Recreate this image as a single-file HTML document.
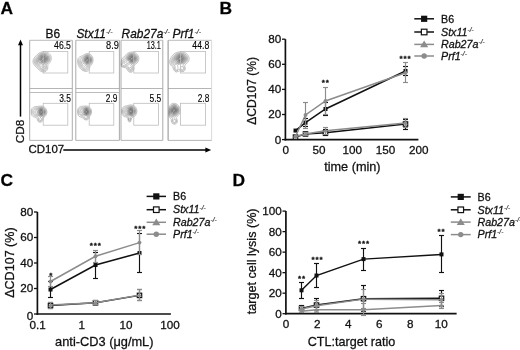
<!DOCTYPE html>
<html lang="en"><head><meta charset="utf-8"><title>Figure</title>
<style>html,body{margin:0;padding:0;background:#fff;overflow:hidden}svg{display:block;font-family:"Liberation Sans",Arial,Helvetica,sans-serif;filter:blur(0.4px)}text{stroke:#111;stroke-width:.28px}tspan{stroke-width:.15px}</style></head><body>
<svg width="520" height="350" viewBox="0 0 520 350">
<rect width="520" height="350" fill="#fff"/>
<defs><radialGradient id="core"><stop offset="0" stop-color="#444" stop-opacity="0.42"/><stop offset="0.45" stop-color="#505050" stop-opacity="0.3"/><stop offset="1" stop-color="#666" stop-opacity="0"/></radialGradient></defs>
<text x="0.6" y="13.8" font-size="17.4" font-weight="bold" fill="#000">A</text>
<text x="219.4" y="13.8" font-size="17.4" font-weight="bold" fill="#000">B</text>
<text x="0.6" y="185.7" font-size="17.4" font-weight="bold" fill="#000">C</text>
<text x="232.4" y="185.7" font-size="17.4" font-weight="bold" fill="#000">D</text>
<g id="panelA">
<text x="52.8" y="38" font-size="11.9" text-anchor="middle" fill="#111">B6</text>
<text x="76.4" y="38" font-size="11.9" font-style="italic" fill="#111">Stx11<tspan font-size="7" dy="-4.28" fill="#2a2a2a">-/-</tspan></text>
<text x="121.6" y="38" font-size="11.9" font-style="italic" fill="#111">Rab27a<tspan font-size="7" dy="-4.28" fill="#2a2a2a">-/-</tspan></text>
<text x="172.6" y="38" font-size="11.9" font-style="italic" fill="#111">Prf1<tspan font-size="7" dy="-4.28" fill="#2a2a2a">-/-</tspan></text>
<line x1="29.7" y1="40.3" x2="72.3" y2="40.3" stroke="#b4b4b4" stroke-width="0.9"/>
<line x1="29.7" y1="88.5" x2="72.3" y2="88.5" stroke="#adadad" stroke-width="0.9"/>
<line x1="29.7" y1="40.3" x2="29.7" y2="140.4" stroke="#a2a2a2" stroke-width="0.9"/>
<line x1="72.3" y1="40.3" x2="72.3" y2="140.4" stroke="#a2a2a2" stroke-width="0.9"/>
<ellipse cx="43.4" cy="58.8" rx="7.92" ry="6.96" fill="url(#core)"/>
<g fill="none" stroke="#484848" stroke-width="0.5" stroke-linejoin="round">
<path d="M42.2,51.8 44.0,51.6 45.8,51.8 47.1,52.2 48.3,52.8 49.3,53.6 50.2,54.6 50.8,55.7 51.2,57.0 51.3,58.8 51.0,60.3 50.4,61.6 49.8,62.6 48.9,63.6 48.0,64.6 47.7,66.0 47.8,67.6 47.6,69.1 47.0,70.2 46.0,71.2 44.8,71.8 43.2,72.0 41.6,71.7 40.4,71.1 39.4,70.3 38.5,69.4 37.6,68.5 36.7,67.6 35.8,66.7 34.9,65.8 34.1,64.8 33.4,63.6 33.0,62.2 33.0,60.6 33.4,59.2 34.0,58.1 34.8,57.0 35.6,56.2 36.6,55.2 37.4,54.4 38.4,53.6 39.6,52.8 40.8,52.2 42.2,51.8Z" stroke-opacity="0.62"/>
<path d="M43.2,52.8 44.7,52.8 46.0,53.1 47.2,53.6 48.1,54.2 48.9,55.0 49.5,56.0 50.0,57.2 50.1,58.6 49.8,60.0 49.4,61.0 48.7,62.0 48.0,62.8 47.2,63.6 46.4,64.5 46.4,66.0 46.7,67.2 46.6,68.7 46.0,69.8 45.2,70.5 44.0,70.9 42.8,71.0 41.5,70.6 40.5,70.0 39.7,69.2 38.9,68.4 38.2,67.6 37.3,66.8 36.5,66.0 35.8,65.2 35.0,64.2 34.5,63.2 34.1,62.0 34.2,60.5 34.6,59.3 35.2,58.4 36.0,57.4 36.8,56.6 37.6,55.8 38.4,55.0 39.2,54.4 40.2,53.7 41.4,53.2 42.6,52.9Z" stroke-opacity="0.6"/>
<path d="M42.4,53.8 43.8,53.6 45.2,53.8 46.2,54.1 47.1,54.6 47.8,55.2 48.4,56.0 48.9,57.0 49.1,58.2 49.0,59.4 48.6,60.5 48.1,61.4 47.4,62.2 46.7,62.8 46.0,63.4 45.2,64.2 45.0,65.2 45.4,66.2 45.7,67.2 45.8,68.2 45.3,69.2 44.6,69.8 43.4,70.2 42.2,70.0 41.2,69.5 40.4,68.8 39.8,68.1 39.1,67.4 38.4,66.7 37.7,66.0 37.0,65.3 36.3,64.6 35.7,63.8 35.2,62.8 35.0,61.6 35.2,60.3 35.6,59.4 36.2,58.5 36.8,57.8 37.6,57.0 38.2,56.4 39.0,55.7 39.8,55.0 40.6,54.5 41.6,54.0Z" stroke-opacity="0.6"/>
<path d="M43.6,54.4 44.6,54.5 45.8,54.8 46.6,55.3 47.4,56.0 47.9,56.8 48.2,57.8 48.2,59.1 47.9,60.2 47.4,61.0 46.7,61.8 46.0,62.4 45.1,63.0 44.3,63.6 43.7,64.4 43.9,65.6 44.4,66.4 44.8,67.4 44.6,68.6 43.8,69.2 42.6,69.2 41.7,68.8 41.0,68.2 40.3,67.4 39.6,66.7 38.9,66.0 38.2,65.4 37.4,64.6 36.8,63.9 36.2,63.0 35.9,62.0 36.0,60.6 36.4,59.7 37.0,58.8 37.6,58.1 38.3,57.4 39.0,56.7 39.8,56.0 40.6,55.4 41.4,54.9 42.4,54.6Z" stroke-opacity="0.62"/>
<path d="M42.7,55.2 43.8,55.1 44.8,55.2 45.8,55.6 46.4,56.0 47.0,56.7 47.4,57.6 47.5,58.6 47.3,59.6 47.0,60.4 46.4,61.1 45.8,61.7 45.0,62.2 44.3,62.6 43.6,63.0 42.8,63.6 42.4,64.2 42.1,65.2 42.4,66.0 43.0,66.7 43.4,67.6 42.4,67.8 41.8,67.3 41.2,66.6 40.6,66.0 40.0,65.6 39.2,65.1 38.6,64.6 37.9,64.0 37.4,63.4 36.9,62.6 36.7,61.6 36.8,60.6 37.2,59.8 37.8,59.0 38.4,58.4 38.9,57.8 39.5,57.2 40.1,56.6 40.8,56.0 41.5,55.6 42.4,55.3Z" stroke-opacity="0.66"/>
<path d="M43.0,55.8 43.6,55.7 44.3,55.8 45.0,56.0 45.4,56.2 45.9,56.6 46.3,57.0 46.6,57.6 46.8,58.2 46.7,59.0 46.6,59.6 46.3,60.2 46.0,60.6 45.6,61.0 45.1,61.4 44.6,61.7 44.0,62.0 43.6,62.2 43.0,62.4 42.4,62.7 42.0,63.0 41.4,63.4 41.0,63.7 40.4,64.0 39.9,64.0 39.2,63.8 38.8,63.5 38.4,63.2 38.0,62.7 37.7,62.2 37.6,61.4 37.8,60.6 38.0,60.2 38.4,59.6 38.7,59.2 39.0,58.8 39.4,58.3 39.8,57.8 40.2,57.4 40.6,57.0 41.0,56.7 41.4,56.4 42.0,56.1 42.6,55.9Z" stroke-opacity="0.72"/>
<path d="M43.3,56.4 43.8,56.4 44.2,56.5 44.7,56.6 45.1,56.8 45.4,57.1 45.7,57.4 45.9,57.8 46.0,58.2 46.0,58.8 46.0,59.2 45.8,59.7 45.6,60.0 45.3,60.4 45.0,60.7 44.6,61.0 44.2,61.2 43.8,61.4 43.4,61.5 43.0,61.7 42.6,61.8 42.0,62.0 41.6,62.1 41.2,62.2 40.7,62.4 40.2,62.5 39.6,62.4 39.2,62.2 39.0,62.0 38.8,61.4 38.8,61.0 38.9,60.6 39.1,60.2 39.3,59.8 39.5,59.4 39.8,59.0 40.0,58.7 40.2,58.4 40.5,58.0 40.8,57.7 41.1,57.4 41.4,57.2 41.8,56.9 42.2,56.7 42.6,56.5 43.2,56.4Z" stroke-opacity="0.8"/>
<path d="M42.6,57.2 43.0,57.1 43.4,57.0 43.8,57.1 44.2,57.1 44.4,57.2 44.7,57.4 44.9,57.6 45.1,57.8 45.2,58.0 45.3,58.4 45.3,58.8 45.2,59.2 45.2,59.4 45.0,59.7 44.8,60.0 44.6,60.2 44.4,60.3 44.2,60.5 44.0,60.6 43.6,60.8 43.4,60.8 43.0,61.0 42.8,61.0 42.4,61.1 42.0,61.1 41.6,61.1 41.2,61.1 40.8,61.0 40.6,60.9 40.4,60.6 40.3,60.4 40.3,60.0 40.4,59.7 40.5,59.4 40.6,59.2 40.8,58.8 40.9,58.6 41.1,58.4 41.2,58.2 41.4,58.0 41.6,57.8 41.9,57.6 42.2,57.4 42.4,57.3 42.6,57.2Z" stroke-opacity="0.88"/>
<path d="M42.9,57.8 43.0,57.8 43.2,57.7 43.4,57.7 43.6,57.7 43.8,57.8 43.9,57.8 44.0,57.8 44.2,58.0 44.2,58.0 44.4,58.2 44.4,58.2 44.5,58.4 44.6,58.6 44.6,58.8 44.5,59.0 44.5,59.2 44.4,59.4 44.4,59.4 44.2,59.6 44.2,59.6 44.0,59.8 44.0,59.8 43.8,60.0 43.7,60.0 43.6,60.1 43.4,60.1 43.2,60.2 43.2,60.2 43.0,60.3 42.8,60.3 42.6,60.3 42.4,60.3 42.2,60.3 42.0,60.2 42.0,60.2 41.8,60.1 41.7,60.0 41.6,59.9 41.6,59.8 41.5,59.6 41.5,59.4 41.5,59.2 41.6,59.0 41.6,59.0 41.7,58.8 41.8,58.6 41.8,58.6 42.0,58.4 42.0,58.4 42.2,58.2 42.2,58.2 42.4,58.0 42.4,58.0 42.6,57.9 42.8,57.8 42.9,57.8Z" stroke-opacity="0.95"/>
</g>
<rect x="43.2" y="51.5" width="24.6" height="21.5" fill="none" stroke="#bdbdbd" stroke-width="0.8"/>
<text x="54.1" y="49.3" font-size="10.4" fill="#000" textLength="16.8" lengthAdjust="spacingAndGlyphs" style="stroke-width:.14px">46.5</text>
<line x1="75.8" y1="40.3" x2="119.4" y2="40.3" stroke="#b4b4b4" stroke-width="0.9"/>
<line x1="75.8" y1="88.5" x2="119.4" y2="88.5" stroke="#adadad" stroke-width="0.9"/>
<line x1="75.8" y1="40.3" x2="75.8" y2="140.4" stroke="#a2a2a2" stroke-width="0.9"/>
<line x1="119.4" y1="40.3" x2="119.4" y2="140.4" stroke="#a2a2a2" stroke-width="0.9"/>
<ellipse cx="87.6" cy="59.8" rx="5.52" ry="6.24" fill="url(#core)"/>
<g fill="none" stroke="#484848" stroke-width="0.5" stroke-linejoin="round">
<path d="M86.8,53.6 88.3,53.6 89.6,54.0 90.6,54.5 91.4,55.3 92.1,56.2 92.6,57.2 93.0,58.4 93.1,60.0 93.0,61.4 92.6,62.7 92.1,63.8 91.4,64.8 90.8,65.6 90.1,66.6 89.6,67.6 89.2,69.0 88.8,70.0 88.0,70.9 86.8,71.4 85.4,71.4 84.2,71.1 83.0,70.6 82.0,70.0 81.2,69.3 80.4,68.5 79.7,67.6 79.0,66.6 78.5,65.6 78.0,64.4 77.8,63.2 77.6,61.6 77.7,60.0 78.0,58.8 78.6,57.8 79.5,57.0 80.6,56.5 81.8,56.0 82.8,55.5 83.8,54.9 84.8,54.3 85.9,53.8Z" stroke-opacity="0.62"/>
<path d="M87.0,54.6 88.2,54.6 89.4,55.0 90.2,55.5 90.9,56.2 91.5,57.0 91.9,58.0 92.2,59.2 92.2,60.4 92.0,61.5 91.6,62.6 91.2,63.4 90.6,64.2 89.9,65.0 89.2,65.8 88.6,66.6 88.3,67.6 88.0,68.6 87.4,69.6 86.6,70.1 85.4,70.3 84.2,70.1 83.2,69.7 82.4,69.1 81.6,68.4 81.0,67.7 80.4,66.8 79.9,66.0 79.4,65.0 79.0,64.0 78.7,63.0 78.5,61.8 78.6,60.6 79.0,59.6 79.6,58.8 80.4,58.1 81.3,57.6 82.2,57.2 83.1,56.6 84.0,56.0 84.8,55.4 85.6,55.0 86.8,54.6Z" stroke-opacity="0.6"/>
<path d="M86.9,55.4 88.0,55.4 88.9,55.6 89.6,56.0 90.3,56.6 90.8,57.2 91.2,58.0 91.5,59.0 91.5,60.2 91.4,61.2 91.0,62.2 90.6,63.0 90.1,63.6 89.6,64.2 88.9,64.8 88.3,65.4 87.8,66.0 87.4,66.8 87.1,67.8 86.8,68.6 86.0,69.2 85.0,69.4 84.0,69.1 83.2,68.7 82.6,68.2 82.0,67.6 81.4,66.8 81.0,66.1 80.6,65.3 80.2,64.4 79.9,63.6 79.6,62.6 79.6,61.6 79.8,60.6 80.2,59.8 80.8,59.2 81.4,58.7 82.2,58.2 82.9,57.8 83.6,57.3 84.2,56.8 85.0,56.2 85.7,55.8 86.6,55.5Z" stroke-opacity="0.6"/>
<path d="M86.5,56.2 87.4,56.0 88.4,56.2 89.0,56.4 89.6,56.8 90.1,57.4 90.5,58.0 90.8,58.8 90.9,59.6 90.9,60.6 90.7,61.4 90.4,62.1 90.0,62.7 89.6,63.2 89.0,63.8 88.5,64.2 87.9,64.6 87.4,65.0 86.8,65.6 86.5,66.2 86.2,66.9 85.9,67.6 85.4,68.1 84.6,68.2 83.8,68.0 83.2,67.6 82.8,67.2 82.4,66.6 82.0,66.0 81.6,65.2 81.3,64.6 81.0,63.9 80.8,63.2 80.6,62.2 80.7,61.2 81.0,60.6 81.5,60.0 82.0,59.5 82.6,59.1 83.2,58.6 83.7,58.2 84.2,57.7 84.8,57.2 85.3,56.8 86.0,56.4Z" stroke-opacity="0.62"/>
<path d="M86.6,56.8 87.2,56.7 88.0,56.7 88.6,56.9 89.1,57.2 89.6,57.6 89.9,58.0 90.2,58.6 90.3,59.2 90.4,60.0 90.3,60.8 90.1,61.4 89.8,62.0 89.5,62.4 89.2,62.8 88.7,63.2 88.2,63.6 87.8,63.9 87.2,64.2 86.8,64.4 86.2,64.8 85.8,65.1 85.4,65.5 85.0,66.0 84.6,66.3 84.1,66.4 83.6,66.1 83.2,65.7 82.8,65.2 82.6,64.8 82.3,64.2 82.0,63.7 81.8,63.1 81.7,62.4 81.8,61.6 82.0,61.0 82.3,60.6 82.6,60.2 83.0,59.8 83.4,59.4 83.8,59.0 84.2,58.6 84.6,58.2 85.0,57.8 85.5,57.4 86.0,57.1 86.6,56.8Z" stroke-opacity="0.66"/>
<path d="M86.6,57.4 87.2,57.3 87.8,57.3 88.3,57.4 88.7,57.6 89.0,57.8 89.3,58.2 89.6,58.6 89.7,59.0 89.8,59.4 89.9,60.0 89.8,60.6 89.7,61.0 89.5,61.4 89.3,61.8 89.0,62.2 88.8,62.4 88.4,62.7 88.0,63.0 87.6,63.2 87.2,63.4 86.8,63.6 86.4,63.7 86.0,63.8 85.4,64.0 85.0,64.0 84.4,64.0 84.0,63.9 83.6,63.6 83.4,63.4 83.1,63.0 83.0,62.6 83.0,62.0 83.0,61.6 83.2,61.2 83.4,60.8 83.7,60.4 83.9,60.0 84.2,59.6 84.4,59.4 84.7,59.0 85.0,58.6 85.2,58.4 85.6,58.0 85.9,57.8 86.2,57.6 86.6,57.4Z" stroke-opacity="0.72"/>
<path d="M86.6,58.0 87.0,57.9 87.4,57.8 87.8,57.9 88.2,58.0 88.4,58.1 88.6,58.2 88.8,58.4 89.0,58.7 89.2,59.0 89.2,59.2 89.3,59.6 89.3,60.0 89.3,60.4 89.2,60.8 89.1,61.0 89.0,61.3 88.8,61.6 88.6,61.8 88.4,62.0 88.2,62.2 88.0,62.3 87.8,62.4 87.5,62.6 87.2,62.7 86.8,62.8 86.6,62.8 86.2,62.9 85.8,62.9 85.4,62.8 85.2,62.8 84.8,62.6 84.6,62.4 84.5,62.2 84.4,62.0 84.3,61.6 84.3,61.2 84.4,61.0 84.5,60.6 84.6,60.4 84.8,60.0 84.9,59.8 85.0,59.6 85.2,59.3 85.4,59.0 85.6,58.8 85.8,58.6 86.0,58.4 86.2,58.2 86.4,58.1 86.6,58.0Z" stroke-opacity="0.8"/>
<path d="M86.7,58.6 86.8,58.5 87.0,58.5 87.2,58.4 87.4,58.4 87.6,58.4 87.8,58.5 88.0,58.5 88.1,58.6 88.2,58.7 88.4,58.8 88.4,58.8 88.5,59.0 88.6,59.1 88.7,59.2 88.7,59.4 88.8,59.6 88.8,59.7 88.8,59.8 88.8,60.0 88.8,60.2 88.8,60.3 88.8,60.4 88.7,60.6 88.6,60.8 88.6,60.9 88.5,61.0 88.4,61.2 88.4,61.2 88.2,61.4 88.2,61.4 88.0,61.6 88.0,61.6 87.8,61.8 87.7,61.8 87.6,61.9 87.4,62.0 87.3,62.0 87.2,62.0 87.0,62.1 86.8,62.1 86.6,62.1 86.4,62.1 86.2,62.1 86.0,62.0 86.0,62.0 85.8,61.9 85.7,61.8 85.6,61.7 85.5,61.6 85.4,61.4 85.4,61.4 85.3,61.2 85.3,61.0 85.3,60.8 85.3,60.6 85.4,60.4 85.4,60.3 85.4,60.2 85.5,60.0 85.6,59.8 85.6,59.8 85.7,59.6 85.8,59.4 85.8,59.4 86.0,59.2 86.0,59.2 86.2,59.0 86.2,59.0 86.4,58.8 86.4,58.8 86.6,58.6 86.7,58.6Z" stroke-opacity="0.88"/>
<path d="M86.8,59.2 86.8,59.2 87.0,59.1 87.2,59.0 87.4,59.0 87.6,59.0 87.8,59.1 87.9,59.2 88.0,59.3 88.1,59.4 88.2,59.6 88.2,59.6 88.3,59.8 88.3,60.0 88.3,60.2 88.2,60.4 88.2,60.5 88.1,60.6 88.0,60.8 88.0,60.8 87.8,61.0 87.8,61.0 87.6,61.2 87.6,61.2 87.4,61.3 87.2,61.4 87.0,61.4 86.8,61.4 86.6,61.3 86.4,61.2 86.4,61.2 86.2,61.0 86.2,61.0 86.1,60.8 86.1,60.6 86.1,60.4 86.1,60.2 86.2,60.0 86.2,59.9 86.3,59.8 86.4,59.6 86.4,59.6 86.5,59.4 86.6,59.3 86.8,59.2Z" stroke-opacity="0.95"/>
</g>
<rect x="89.2" y="51.5" width="24.6" height="21.5" fill="none" stroke="#bdbdbd" stroke-width="0.8"/>
<text x="106" y="49.3" font-size="10.4" fill="#000" textLength="12.9" lengthAdjust="spacingAndGlyphs" style="stroke-width:.14px">8.9</text>
<line x1="121" y1="40.3" x2="162.8" y2="40.3" stroke="#b4b4b4" stroke-width="0.9"/>
<line x1="121" y1="88.5" x2="162.8" y2="88.5" stroke="#adadad" stroke-width="0.9"/>
<line x1="121" y1="40.3" x2="121" y2="140.4" stroke="#a2a2a2" stroke-width="0.9"/>
<line x1="162.8" y1="40.3" x2="162.8" y2="140.4" stroke="#a2a2a2" stroke-width="0.9"/>
<ellipse cx="131.8" cy="58.6" rx="6.96" ry="6.48" fill="url(#core)"/>
<g fill="none" stroke="#484848" stroke-width="0.5" stroke-linejoin="round">
<path d="M131.5,52.0 133.0,52.1 134.4,52.5 135.6,53.0 136.7,53.8 137.6,54.8 138.2,55.8 138.7,57.2 138.9,58.8 138.6,60.4 138.1,61.6 137.4,62.7 136.4,63.6 135.4,64.3 134.4,65.0 133.8,66.2 134.0,67.8 133.8,69.6 133.3,70.8 132.4,71.7 131.2,72.3 129.6,72.2 128.4,71.4 127.6,70.4 127.0,69.2 126.4,68.2 125.1,67.6 123.4,67.4 122.0,67.0 121.2,66.0 121.1,64.4 121.2,62.8 121.4,61.0 121.6,59.5 122.2,58.4 123.2,57.5 124.2,56.8 125.1,55.8 125.9,54.8 126.8,53.9 127.8,53.1 129.0,52.5 130.4,52.1Z" stroke-opacity="0.62"/>
<path d="M130.4,53.2 132.0,53.0 133.4,53.2 134.6,53.7 135.6,54.3 136.4,55.1 137.1,56.0 137.6,57.2 137.8,58.6 137.6,60.0 137.1,61.2 136.4,62.1 135.6,62.9 134.6,63.6 133.6,64.1 132.7,64.8 132.6,66.2 133.0,67.4 133.1,68.8 132.7,70.0 132.0,70.9 130.8,71.3 129.4,71.0 128.6,70.3 128.0,69.2 127.6,68.0 127.0,67.1 125.8,66.7 124.4,66.6 122.8,66.4 121.9,65.8 121.6,64.4 122.0,63.0 122.2,61.8 122.5,60.4 123.1,59.4 124.0,58.6 124.8,58.0 125.6,57.1 126.3,56.2 127.0,55.2 127.8,54.5 128.8,53.8 129.8,53.4Z" stroke-opacity="0.6"/>
<path d="M130.5,54.0 132.0,53.8 133.4,54.1 134.6,54.6 135.4,55.2 136.2,56.2 136.7,57.2 136.9,58.6 136.7,60.0 136.2,61.0 135.4,62.0 134.6,62.6 133.5,63.2 132.4,63.7 131.4,64.2 130.9,65.4 131.5,66.4 132.1,67.4 132.3,68.8 131.8,69.9 130.8,70.5 129.6,70.2 128.9,69.2 128.6,68.0 128.2,66.6 127.2,66.0 126.0,65.7 124.4,65.6 123.0,65.4 122.5,64.4 122.9,63.2 123.2,62.0 123.6,60.7 124.3,59.8 125.2,59.1 126.0,58.2 126.6,57.3 127.2,56.4 128.0,55.4 128.8,54.7 129.8,54.2Z" stroke-opacity="0.6"/>
<path d="M131.0,54.6 131.8,54.5 132.6,54.6 133.4,54.8 134.2,55.2 134.8,55.6 135.2,56.0 135.6,56.6 136.0,57.4 136.2,58.2 136.1,59.2 135.9,60.0 135.6,60.6 135.2,61.2 134.6,61.7 134.0,62.1 133.4,62.4 132.6,62.7 131.8,63.0 131.1,63.2 130.4,63.5 129.8,63.9 129.2,64.3 128.6,64.7 127.8,64.9 126.8,64.8 126.0,64.6 125.2,64.4 124.6,64.1 124.3,63.4 124.3,62.4 124.5,61.6 124.8,61.0 125.3,60.4 125.8,60.0 126.4,59.4 126.8,58.8 127.1,58.2 127.4,57.5 127.8,56.8 128.2,56.2 128.6,55.8 129.2,55.3 129.8,55.0 130.6,54.7Z" stroke-opacity="0.62"/>
<path d="M129.9,67.4 130.0,67.4 130.2,67.3 130.4,67.2 130.6,67.3 130.8,67.4 130.9,67.4 131.0,67.5 131.1,67.6 131.2,67.8 131.2,67.8 131.3,68.0 131.4,68.2 131.4,68.4 131.4,68.4 131.4,68.4 131.4,68.6 131.3,68.8 131.2,69.0 131.2,69.1 131.1,69.2 131.0,69.3 130.8,69.4 130.7,69.4 130.6,69.4 130.5,69.4 130.4,69.4 130.2,69.3 130.0,69.2 130.0,69.2 129.9,69.0 129.8,68.9 129.8,68.8 129.7,68.6 129.6,68.4 129.6,68.2 129.7,68.0 129.7,67.8 129.8,67.6 129.8,67.6 129.9,67.4Z" stroke-opacity="0.62"/>
<path d="M131.2,55.2 131.8,55.1 132.4,55.2 133.2,55.4 133.6,55.6 134.2,56.0 134.6,56.3 135.0,56.8 135.2,57.2 135.4,57.8 135.5,58.6 135.4,59.4 135.2,60.0 135.0,60.4 134.6,60.9 134.2,61.2 133.7,61.6 133.2,61.8 132.6,62.1 132.0,62.2 131.2,62.4 130.6,62.4 129.8,62.5 129.2,62.7 128.6,62.9 128.1,63.2 127.5,63.4 126.9,63.4 126.4,63.2 126.0,62.8 126.0,62.0 126.2,61.6 126.6,61.1 127.0,60.6 127.2,60.2 127.5,59.6 127.6,59.0 127.8,58.4 128.0,57.8 128.3,57.2 128.6,56.8 129.0,56.3 129.4,56.0 130.0,55.6 130.4,55.4 131.2,55.2Z" stroke-opacity="0.66"/>
<path d="M131.2,55.8 131.8,55.7 132.4,55.8 132.8,55.9 133.2,56.1 133.6,56.3 134.0,56.6 134.2,56.8 134.5,57.2 134.7,57.6 134.8,58.0 134.9,58.6 134.8,59.2 134.7,59.6 134.5,60.0 134.2,60.4 134.0,60.6 133.6,60.9 133.2,61.2 132.8,61.3 132.4,61.5 131.8,61.6 131.4,61.6 130.8,61.6 130.4,61.6 129.8,61.5 129.4,61.3 129.0,61.1 128.8,60.8 128.6,60.4 128.4,59.8 128.4,59.2 128.5,58.6 128.6,58.2 128.8,57.7 129.0,57.3 129.2,57.0 129.6,56.6 129.8,56.4 130.2,56.2 130.6,56.0 131.2,55.8Z" stroke-opacity="0.72"/>
<path d="M131.2,56.4 131.4,56.4 131.8,56.3 132.2,56.4 132.4,56.4 132.8,56.5 133.0,56.6 133.3,56.8 133.5,57.0 133.7,57.2 133.9,57.4 134.0,57.6 134.1,58.0 134.2,58.2 134.2,58.6 134.2,59.0 134.2,59.2 134.0,59.6 133.9,59.8 133.7,60.0 133.5,60.2 133.3,60.4 133.0,60.6 132.8,60.7 132.6,60.8 132.2,60.9 131.8,61.0 131.4,61.0 131.0,61.0 130.6,60.9 130.4,60.8 130.0,60.6 129.8,60.4 129.6,60.2 129.5,60.0 129.4,59.8 129.2,59.4 129.2,59.2 129.2,58.8 129.2,58.6 129.3,58.2 129.4,57.9 129.6,57.6 129.7,57.4 129.9,57.2 130.1,57.0 130.3,56.8 130.6,56.6 130.8,56.5 131.2,56.4Z" stroke-opacity="0.8"/>
<path d="M131.2,57.0 131.4,57.0 131.6,56.9 131.8,56.9 132.0,56.9 132.2,57.0 132.4,57.0 132.4,57.0 132.6,57.1 132.8,57.2 132.8,57.2 133.0,57.3 133.1,57.4 133.2,57.5 133.3,57.6 133.4,57.8 133.4,57.8 133.5,58.0 133.6,58.2 133.6,58.4 133.6,58.4 133.6,58.6 133.6,58.8 133.6,58.8 133.6,59.0 133.5,59.2 133.4,59.4 133.4,59.4 133.3,59.6 133.2,59.7 133.1,59.8 133.0,59.9 132.8,60.0 132.8,60.0 132.6,60.1 132.5,60.2 132.4,60.2 132.2,60.3 132.0,60.3 131.8,60.4 131.6,60.4 131.4,60.4 131.2,60.3 131.0,60.3 130.8,60.2 130.8,60.2 130.6,60.1 130.5,60.0 130.4,60.0 130.2,59.8 130.2,59.7 130.1,59.6 130.0,59.4 130.0,59.4 129.9,59.2 129.9,59.0 129.9,58.8 129.9,58.6 129.9,58.4 130.0,58.2 130.0,58.1 130.1,58.0 130.2,57.8 130.2,57.7 130.3,57.6 130.4,57.5 130.5,57.4 130.6,57.3 130.8,57.2 130.8,57.2 131.0,57.1 131.2,57.0 131.2,57.0Z" stroke-opacity="0.88"/>
<path d="M131.3,57.6 131.4,57.6 131.6,57.5 131.8,57.5 132.0,57.5 132.2,57.6 132.2,57.6 132.4,57.7 132.6,57.8 132.6,57.8 132.8,58.0 132.8,58.1 132.9,58.2 132.9,58.4 133.0,58.6 132.9,58.8 132.9,59.0 132.8,59.2 132.8,59.2 132.6,59.4 132.6,59.4 132.4,59.6 132.3,59.6 132.2,59.7 132.0,59.7 131.8,59.7 131.6,59.7 131.4,59.7 131.2,59.7 131.1,59.6 131.0,59.5 130.8,59.4 130.8,59.4 130.7,59.2 130.6,59.0 130.6,59.0 130.6,58.8 130.6,58.6 130.6,58.4 130.6,58.4 130.7,58.2 130.8,58.0 130.8,58.0 131.0,57.8 131.0,57.8 131.2,57.7 131.3,57.6Z" stroke-opacity="0.95"/>
</g>
<rect x="133.8" y="51.5" width="24.6" height="21.5" fill="none" stroke="#bdbdbd" stroke-width="0.8"/>
<text x="146.7" y="49.3" font-size="10.4" fill="#000" textLength="14.2" lengthAdjust="spacingAndGlyphs" style="stroke-width:.14px">13.1</text>
<line x1="168.1" y1="40.3" x2="211.6" y2="40.3" stroke="#b4b4b4" stroke-width="0.9"/>
<line x1="168.1" y1="88.5" x2="211.6" y2="88.5" stroke="#adadad" stroke-width="0.9"/>
<line x1="168.1" y1="40.3" x2="168.1" y2="140.4" stroke="#8e8e8e" stroke-width="1"/>
<line x1="211.6" y1="40.3" x2="211.6" y2="140.4" stroke="#d6d6d6" stroke-width="0.9"/>
<ellipse cx="180.4" cy="58.6" rx="8.64" ry="6.72" fill="url(#core)"/>
<g fill="none" stroke="#484848" stroke-width="0.5" stroke-linejoin="round">
<path d="M179.5,51.8 181.3,51.8 183.0,52.1 184.6,52.6 185.8,53.2 187.0,54.1 188.0,55.2 188.7,56.4 189.2,58.0 189.0,60.0 188.4,61.4 187.6,62.5 186.6,63.5 185.4,64.3 184.7,65.6 185.1,67.2 185.3,69.0 184.8,70.4 183.8,71.4 182.0,71.7 180.6,71.1 179.2,70.8 178.0,71.6 176.2,72.0 174.8,71.3 174.0,70.2 173.4,68.6 172.9,67.2 171.8,66.2 170.8,65.2 170.0,64.0 169.6,62.4 169.7,60.8 170.2,59.2 170.8,58.0 171.6,56.6 172.4,55.5 173.4,54.4 174.4,53.6 175.7,52.8 177.2,52.2 178.8,51.9Z" stroke-opacity="0.62"/>
<path d="M178.8,53.0 180.4,52.9 182.0,53.0 183.5,53.4 184.8,54.0 185.8,54.7 186.7,55.6 187.4,56.8 187.8,58.2 187.6,59.9 187.0,61.2 186.2,62.2 185.2,63.0 184.2,63.6 183.0,64.4 183.0,65.4 183.8,66.5 184.3,67.8 184.3,69.2 183.6,70.3 182.2,70.7 181.0,70.2 180.0,69.3 179.0,69.3 178.2,70.2 177.0,70.9 175.5,70.6 174.7,69.6 174.3,68.2 174.0,66.7 173.2,65.8 172.2,65.0 171.4,64.0 170.9,62.6 170.9,60.8 171.4,59.5 172.0,58.3 172.7,57.2 173.4,56.2 174.3,55.2 175.3,54.4 176.4,53.8 177.8,53.2Z" stroke-opacity="0.6"/>
<path d="M179.0,53.8 180.4,53.7 181.8,53.8 183.2,54.2 184.2,54.7 185.2,55.4 185.9,56.2 186.5,57.2 186.7,58.6 186.5,60.0 185.9,61.0 185.2,61.8 184.2,62.6 183.2,63.1 182.0,63.5 180.8,63.9 179.4,64.2 178.4,64.6 177.6,65.4 177.8,66.8 178.1,68.0 177.8,69.3 176.8,70.0 175.6,69.5 175.1,68.4 175.2,66.9 175.0,65.8 174.0,65.1 173.0,64.4 172.3,63.6 171.8,62.4 171.8,61.2 172.2,60.0 172.8,58.9 173.4,57.9 174.0,57.0 174.8,56.1 175.6,55.3 176.6,54.6 177.6,54.2 179.0,53.8Z" stroke-opacity="0.6"/>
<path d="M181.4,66.6 181.4,66.6 181.6,66.5 181.8,66.5 182.0,66.4 182.2,66.5 182.4,66.5 182.5,66.6 182.6,66.6 182.8,66.8 182.8,66.8 183.0,66.9 183.1,67.0 183.2,67.2 183.2,67.2 183.3,67.4 183.4,67.6 183.4,67.6 183.5,67.8 183.5,68.0 183.6,68.2 183.6,68.4 183.5,68.6 183.5,68.8 183.4,69.0 183.4,69.1 183.3,69.2 183.2,69.4 183.2,69.4 183.0,69.5 182.9,69.6 182.8,69.7 182.6,69.7 182.4,69.7 182.2,69.7 182.0,69.7 181.8,69.6 181.7,69.6 181.6,69.5 181.4,69.4 181.4,69.4 181.2,69.2 181.2,69.2 181.1,69.0 181.0,68.9 180.9,68.8 180.8,68.6 180.8,68.5 180.8,68.4 180.7,68.2 180.7,68.0 180.7,67.8 180.7,67.6 180.8,67.4 180.8,67.3 180.9,67.2 181.0,67.0 181.0,67.0 181.1,66.8 181.2,66.7 181.4,66.6Z" stroke-opacity="0.6"/>
<path d="M178.7,54.6 179.6,54.4 180.6,54.4 181.6,54.5 182.4,54.7 183.2,55.0 183.8,55.3 184.4,55.8 184.8,56.2 185.3,56.8 185.6,57.5 185.8,58.4 185.7,59.4 185.4,60.2 185.0,60.8 184.6,61.2 184.0,61.7 183.4,62.1 182.8,62.4 182.0,62.7 181.2,62.9 180.4,63.1 179.6,63.3 178.8,63.5 178.0,63.8 177.4,64.0 176.6,64.3 175.8,64.5 175.0,64.4 174.2,64.0 173.6,63.6 173.2,63.2 172.8,62.4 172.7,61.6 172.9,60.8 173.2,60.0 173.5,59.4 173.9,58.8 174.2,58.2 174.6,57.6 175.1,57.0 175.6,56.4 176.0,56.0 176.6,55.6 177.2,55.2 178.0,54.8 178.7,54.6Z" stroke-opacity="0.62"/>
<path d="M179.0,55.2 179.8,55.1 180.6,55.0 181.4,55.1 182.0,55.3 182.6,55.5 183.2,55.8 183.6,56.1 184.0,56.4 184.4,56.9 184.7,57.4 184.9,58.0 185.0,58.8 184.8,59.6 184.6,60.0 184.2,60.6 183.8,61.0 183.4,61.3 182.9,61.6 182.4,61.8 181.8,62.1 181.2,62.2 180.4,62.4 179.8,62.5 179.2,62.6 178.4,62.8 177.8,63.0 177.2,63.1 176.6,63.3 175.8,63.4 175.0,63.3 174.5,63.0 174.1,62.6 173.8,62.0 173.7,61.4 173.9,60.8 174.1,60.2 174.4,59.6 174.6,59.2 174.9,58.6 175.2,58.2 175.6,57.6 175.9,57.2 176.3,56.8 176.7,56.4 177.2,56.0 177.6,55.8 178.2,55.5 178.8,55.3Z" stroke-opacity="0.66"/>
<path d="M179.2,55.8 179.8,55.7 180.4,55.7 181.0,55.7 181.5,55.8 182.0,55.9 182.4,56.1 182.8,56.3 183.1,56.6 183.4,56.8 183.7,57.2 183.9,57.6 184.1,58.0 184.2,58.6 184.1,59.2 183.9,59.6 183.7,60.0 183.4,60.4 183.2,60.6 182.8,60.9 182.4,61.1 182.0,61.3 181.6,61.5 181.1,61.6 180.6,61.7 180.0,61.8 179.6,61.9 179.0,61.9 178.4,62.0 178.0,62.1 177.4,62.1 177.0,62.2 176.4,62.2 175.9,62.2 175.4,62.0 175.2,61.8 175.0,61.2 175.1,60.6 175.2,60.2 175.4,59.6 175.6,59.2 175.8,58.8 176.0,58.4 176.2,58.1 176.4,57.8 176.7,57.4 177.0,57.1 177.3,56.8 177.6,56.5 178.0,56.3 178.4,56.1 178.8,55.9 179.2,55.8Z" stroke-opacity="0.72"/>
<path d="M179.4,56.4 179.6,56.4 180.0,56.3 180.4,56.3 180.8,56.3 181.2,56.4 181.4,56.4 181.8,56.6 182.0,56.6 182.3,56.8 182.5,57.0 182.8,57.2 182.9,57.4 183.1,57.6 183.2,57.8 183.3,58.2 183.4,58.6 183.3,59.0 183.2,59.4 183.1,59.6 183.0,59.8 182.8,60.0 182.6,60.2 182.3,60.4 182.0,60.6 181.8,60.7 181.6,60.8 181.2,60.9 180.9,61.0 180.6,61.1 180.2,61.1 179.8,61.2 179.6,61.2 179.2,61.2 178.8,61.2 178.4,61.2 178.2,61.2 177.8,61.2 177.4,61.1 177.1,61.0 176.8,60.8 176.6,60.6 176.5,60.4 176.5,60.0 176.5,59.6 176.6,59.2 176.7,59.0 176.8,58.6 176.9,58.4 177.0,58.2 177.2,57.9 177.4,57.7 177.6,57.4 177.8,57.2 178.0,57.1 178.2,56.9 178.4,56.8 178.8,56.6 179.0,56.5 179.4,56.4Z" stroke-opacity="0.8"/>
<path d="M179.5,57.0 179.8,56.9 180.2,56.9 180.6,56.9 181.0,57.0 181.2,57.0 181.6,57.2 181.8,57.3 182.0,57.4 182.2,57.6 182.4,57.9 182.5,58.2 182.6,58.6 182.5,59.0 182.4,59.3 182.2,59.6 182.0,59.8 181.8,60.0 181.6,60.1 181.4,60.2 181.0,60.3 180.8,60.4 180.4,60.5 180.0,60.5 179.6,60.5 179.2,60.5 178.8,60.5 178.6,60.4 178.2,60.2 178.0,60.1 177.8,59.9 177.7,59.6 177.6,59.2 177.6,59.2 177.7,58.8 177.8,58.4 177.9,58.2 178.1,58.0 178.2,57.8 178.4,57.6 178.7,57.4 179.0,57.2 179.2,57.1 179.5,57.0Z" stroke-opacity="0.88"/>
<path d="M179.7,57.6 179.8,57.6 180.0,57.5 180.2,57.5 180.4,57.5 180.6,57.5 180.8,57.6 180.9,57.6 181.0,57.6 181.2,57.7 181.3,57.8 181.4,57.9 181.5,58.0 181.6,58.1 181.7,58.2 181.7,58.4 181.8,58.6 181.7,58.8 181.7,59.0 181.6,59.1 181.6,59.2 181.4,59.4 181.4,59.4 181.2,59.5 181.1,59.6 181.0,59.7 180.8,59.7 180.6,59.8 180.6,59.8 180.4,59.8 180.2,59.9 180.0,59.9 179.8,59.9 179.6,59.8 179.4,59.8 179.4,59.8 179.2,59.7 179.0,59.6 178.9,59.6 178.8,59.5 178.7,59.4 178.6,59.2 178.6,59.1 178.6,59.0 178.6,58.8 178.6,58.7 178.6,58.6 178.7,58.4 178.8,58.3 178.8,58.2 179.0,58.0 179.0,58.0 179.2,57.9 179.3,57.8 179.4,57.7 179.6,57.7 179.7,57.6Z" stroke-opacity="0.95"/>
</g>
<rect x="180.5" y="51.5" width="25.1" height="21.5" fill="none" stroke="#bdbdbd" stroke-width="0.8"/>
<text x="192.3" y="49.3" font-size="10.4" fill="#000" textLength="17" lengthAdjust="spacingAndGlyphs" style="stroke-width:.14px">44.8</text>
<line x1="29.7" y1="92.5" x2="72.3" y2="92.5" stroke="#b4b4b4" stroke-width="0.9"/>
<line x1="29.7" y1="140.4" x2="72.3" y2="140.4" stroke="#adadad" stroke-width="0.9"/>
<ellipse cx="41.6" cy="112" rx="5.28" ry="5.76" fill="url(#core)"/>
<g fill="none" stroke="#484848" stroke-width="0.5" stroke-linejoin="round">
<path d="M39.0,106.2 40.4,106.1 42.0,106.1 43.2,106.4 44.3,107.0 45.2,107.8 45.9,108.6 46.4,109.6 46.8,110.9 46.9,112.4 46.6,113.8 46.2,114.9 45.6,115.8 44.8,116.6 43.9,117.4 43.3,118.4 43.0,119.7 42.6,120.8 41.8,121.7 40.8,122.2 39.4,122.2 38.3,121.6 37.6,120.6 37.3,119.4 37.0,118.1 36.0,117.5 34.8,117.2 33.6,116.8 32.6,116.2 31.8,115.3 31.4,114.2 31.2,112.8 31.2,111.2 31.4,109.8 31.8,108.7 32.6,107.8 33.6,107.2 34.8,106.8 36.0,106.5 37.4,106.4 39.0,106.2Z" stroke-opacity="0.62"/>
<path d="M40.9,107.0 42.0,107.1 43.1,107.4 44.0,107.9 44.8,108.6 45.3,109.4 45.8,110.4 46.0,111.6 46.0,112.6 45.7,113.8 45.2,114.8 44.6,115.6 43.9,116.2 43.0,116.8 42.4,117.4 42.2,118.8 42.0,120.0 41.5,120.8 40.6,121.3 39.3,121.2 38.6,120.6 38.2,119.4 38.4,118.0 38.0,116.9 37.0,116.5 35.8,116.2 34.8,115.9 33.8,115.4 33.0,114.8 32.4,114.0 32.0,113.0 31.9,111.8 32.1,110.6 32.6,109.7 33.2,109.0 34.1,108.4 35.0,108.0 36.2,107.7 37.4,107.5 38.6,107.3 39.8,107.1Z" stroke-opacity="0.6"/>
<path d="M40.1,107.8 41.0,107.7 42.0,107.8 42.7,108.0 43.4,108.3 44.0,108.8 44.4,109.2 44.8,109.8 45.1,110.6 45.3,111.4 45.3,112.4 45.2,113.2 44.9,114.0 44.5,114.6 44.0,115.2 43.5,115.6 42.8,116.0 42.2,116.3 41.4,116.6 40.6,116.8 39.8,116.5 39.1,116.2 38.4,115.9 37.6,115.7 36.8,115.5 36.0,115.3 35.2,115.0 34.6,114.7 34.0,114.2 33.6,113.8 33.2,113.1 33.0,112.4 33.0,111.5 33.2,110.8 33.6,110.2 34.2,109.6 34.8,109.2 35.4,108.9 36.2,108.7 37.0,108.5 37.8,108.3 38.6,108.1 39.4,107.9Z" stroke-opacity="0.6"/>
<path d="M39.9,117.8 40.0,117.8 40.2,117.7 40.4,117.7 40.6,117.7 40.7,117.8 40.8,117.9 40.9,118.0 41.0,118.1 41.1,118.2 41.2,118.4 41.2,118.5 41.2,118.6 41.3,118.8 41.3,119.0 41.3,119.2 41.3,119.4 41.3,119.6 41.2,119.8 41.2,119.8 41.1,120.0 41.0,120.1 40.9,120.2 40.8,120.3 40.6,120.4 40.6,120.4 40.4,120.5 40.2,120.5 40.0,120.5 39.8,120.4 39.7,120.4 39.6,120.3 39.4,120.2 39.4,120.2 39.3,120.0 39.2,119.9 39.2,119.8 39.1,119.6 39.1,119.4 39.1,119.2 39.1,119.0 39.2,118.8 39.2,118.7 39.2,118.6 39.3,118.4 39.4,118.3 39.5,118.2 39.6,118.1 39.7,118.0 39.8,117.9 39.9,117.8Z" stroke-opacity="0.6"/>
<path d="M40.4,108.4 41.0,108.3 41.8,108.4 42.4,108.5 43.0,108.8 43.4,109.1 43.8,109.5 44.2,110.0 44.4,110.4 44.6,111.0 44.8,111.8 44.7,112.6 44.6,113.2 44.3,113.8 44.0,114.3 43.6,114.7 43.2,115.1 42.6,115.4 42.0,115.6 41.4,115.7 40.6,115.7 39.9,115.6 39.3,115.4 38.7,115.2 38.2,115.0 37.6,114.8 37.0,114.6 36.4,114.4 35.8,114.1 35.2,113.8 34.8,113.5 34.5,113.0 34.2,112.4 34.2,111.8 34.4,111.2 34.6,110.8 35.0,110.4 35.5,110.0 36.0,109.8 36.6,109.5 37.2,109.3 37.8,109.1 38.4,108.9 39.0,108.7 39.6,108.6 40.4,108.4Z" stroke-opacity="0.62"/>
<path d="M40.2,109.0 40.8,108.9 41.4,108.9 42.0,109.0 42.4,109.1 42.8,109.3 43.2,109.6 43.4,109.8 43.7,110.2 43.9,110.6 44.1,111.0 44.2,111.4 44.3,112.0 44.2,112.6 44.1,113.0 43.9,113.4 43.7,113.8 43.4,114.2 43.2,114.4 42.8,114.7 42.4,114.9 42.0,115.0 41.4,115.1 40.8,115.1 40.2,115.0 39.8,114.9 39.4,114.8 39.0,114.6 38.6,114.4 38.2,114.2 37.8,114.0 37.4,113.8 37.0,113.6 36.6,113.4 36.2,113.1 35.9,112.8 35.7,112.4 35.7,111.8 35.8,111.4 36.1,111.0 36.4,110.8 36.8,110.5 37.2,110.3 37.6,110.1 38.0,109.9 38.4,109.7 38.8,109.5 39.2,109.3 39.6,109.2 40.2,109.0Z" stroke-opacity="0.66"/>
<path d="M40.1,109.6 40.4,109.5 40.8,109.5 41.2,109.4 41.6,109.5 42.0,109.6 42.2,109.6 42.5,109.8 42.8,110.0 43.0,110.2 43.2,110.4 43.4,110.6 43.5,110.8 43.6,111.1 43.7,111.4 43.7,111.8 43.7,112.2 43.7,112.6 43.6,112.9 43.5,113.2 43.4,113.4 43.2,113.6 43.0,113.8 42.8,114.0 42.5,114.2 42.2,114.4 42.0,114.5 41.6,114.5 41.2,114.6 40.8,114.6 40.4,114.5 40.1,114.4 39.8,114.3 39.6,114.2 39.2,114.0 39.0,113.9 38.8,113.7 38.6,113.6 38.4,113.4 38.1,113.2 37.9,113.0 37.8,112.8 37.6,112.6 37.5,112.2 37.5,111.8 37.6,111.4 37.8,111.2 37.9,111.0 38.1,110.8 38.4,110.6 38.6,110.4 38.8,110.3 39.0,110.1 39.2,110.0 39.6,109.8 39.8,109.7 40.1,109.6Z" stroke-opacity="0.72"/>
<path d="M40.7,110.0 41.0,110.0 41.4,110.0 41.6,110.0 42.0,110.1 42.2,110.2 42.5,110.4 42.7,110.6 42.9,110.8 43.0,111.0 43.2,111.4 43.2,111.6 43.3,112.0 43.2,112.4 43.2,112.6 43.0,113.0 42.9,113.2 42.7,113.4 42.5,113.6 42.2,113.8 42.0,113.9 41.7,114.0 41.4,114.0 41.0,114.0 40.7,114.0 40.4,113.9 40.1,113.8 39.8,113.6 39.6,113.5 39.4,113.4 39.2,113.2 39.0,113.0 38.8,112.7 38.7,112.4 38.6,112.0 38.7,111.6 38.8,111.3 39.0,111.0 39.2,110.8 39.4,110.6 39.6,110.5 39.8,110.4 40.1,110.2 40.4,110.1 40.7,110.0Z" stroke-opacity="0.8"/>
<path d="M40.5,110.6 40.6,110.6 40.8,110.5 41.0,110.5 41.2,110.5 41.4,110.5 41.6,110.5 41.8,110.6 41.8,110.6 42.0,110.7 42.2,110.8 42.2,110.8 42.4,111.0 42.4,111.0 42.5,111.2 42.6,111.3 42.6,111.4 42.7,111.6 42.7,111.8 42.7,112.0 42.7,112.2 42.7,112.4 42.6,112.6 42.6,112.7 42.5,112.8 42.4,113.0 42.4,113.0 42.2,113.2 42.2,113.2 42.0,113.3 41.8,113.4 41.8,113.4 41.6,113.5 41.4,113.5 41.2,113.5 41.0,113.5 40.8,113.5 40.6,113.4 40.5,113.4 40.4,113.3 40.2,113.2 40.1,113.2 40.0,113.1 39.9,113.0 39.8,112.9 39.7,112.8 39.6,112.6 39.6,112.6 39.5,112.4 39.4,112.2 39.4,112.0 39.4,111.8 39.5,111.6 39.6,111.4 39.6,111.4 39.7,111.2 39.8,111.1 39.9,111.0 40.0,110.9 40.1,110.8 40.2,110.8 40.4,110.7 40.5,110.6Z" stroke-opacity="0.88"/>
<path d="M40.6,111.2 40.6,111.2 40.8,111.1 41.0,111.0 41.2,111.0 41.4,111.0 41.6,111.1 41.8,111.2 41.8,111.2 42.0,111.4 42.0,111.4 42.1,111.6 42.2,111.8 42.2,111.8 42.2,112.0 42.2,112.2 42.2,112.2 42.1,112.4 42.0,112.6 42.0,112.6 41.8,112.8 41.8,112.8 41.6,112.9 41.4,113.0 41.2,113.0 41.0,113.0 40.8,112.9 40.6,112.8 40.6,112.8 40.4,112.7 40.3,112.6 40.2,112.4 40.2,112.4 40.1,112.2 40.1,112.0 40.1,111.8 40.2,111.6 40.2,111.6 40.3,111.4 40.4,111.3 40.6,111.2Z" stroke-opacity="0.95"/>
</g>
<rect x="43.2" y="103.3" width="24.6" height="21.9" fill="none" stroke="#bdbdbd" stroke-width="0.8"/>
<text x="59.2" y="101.5" font-size="10.4" fill="#000" textLength="11.7" lengthAdjust="spacingAndGlyphs" style="stroke-width:.14px">3.5</text>
<line x1="75.8" y1="92.5" x2="119.4" y2="92.5" stroke="#b4b4b4" stroke-width="0.9"/>
<line x1="75.8" y1="140.4" x2="119.4" y2="140.4" stroke="#adadad" stroke-width="0.9"/>
<ellipse cx="86.8" cy="111.8" rx="4.8" ry="5.52" fill="url(#core)"/>
<g fill="none" stroke="#484848" stroke-width="0.5" stroke-linejoin="round">
<path d="M85.5,106.0 86.6,106.0 87.8,106.3 88.8,106.7 89.6,107.3 90.3,108.0 90.8,108.8 91.3,109.8 91.5,111.0 91.6,112.4 91.3,113.6 90.9,114.6 90.4,115.5 89.8,116.3 89.2,117.2 88.9,118.2 88.4,119.1 87.6,119.7 86.4,119.9 85.2,119.8 84.2,119.3 83.4,118.6 82.7,118.0 81.8,117.5 80.8,117.1 79.8,116.7 79.0,116.2 78.3,115.4 77.9,114.4 77.7,113.2 77.6,111.9 77.6,110.8 77.8,109.6 78.2,108.4 78.8,107.6 79.6,107.0 80.6,106.6 81.6,106.3 82.8,106.2 84.2,106.1 85.5,106.0Z" stroke-opacity="0.62"/>
<path d="M85.0,107.0 86.0,106.9 87.0,107.0 88.0,107.3 88.8,107.8 89.4,108.3 90.0,109.0 90.4,109.8 90.7,110.6 90.8,111.8 90.7,113.0 90.4,113.8 90.0,114.6 89.4,115.4 88.8,116.0 88.4,116.6 88.1,117.6 87.8,118.4 87.0,119.0 86.0,119.1 85.0,118.8 84.4,118.4 83.8,117.7 83.3,117.0 82.6,116.5 81.8,116.2 80.8,115.8 80.0,115.4 79.4,115.0 78.8,114.3 78.4,113.4 78.2,112.4 78.2,111.5 78.4,110.4 78.7,109.6 79.2,108.8 79.8,108.3 80.6,107.9 81.4,107.6 82.4,107.4 83.5,107.2 84.6,107.0Z" stroke-opacity="0.6"/>
<path d="M84.7,107.8 85.6,107.7 86.6,107.7 87.4,107.8 88.2,108.2 88.8,108.6 89.2,109.0 89.6,109.6 90.0,110.4 90.2,111.2 90.2,112.2 90.0,113.1 89.7,113.8 89.4,114.4 88.8,115.0 88.4,115.4 87.8,116.0 87.4,116.6 87.2,117.4 86.9,118.0 86.2,118.3 85.4,118.2 84.8,117.6 84.5,117.0 84.1,116.4 83.6,115.9 83.0,115.6 82.2,115.3 81.4,115.0 80.8,114.7 80.2,114.3 79.7,113.8 79.3,113.2 79.1,112.4 79.0,111.4 79.2,110.6 79.6,109.9 80.1,109.4 80.6,109.0 81.4,108.6 82.0,108.4 82.8,108.2 83.7,108.0 84.6,107.8Z" stroke-opacity="0.6"/>
<path d="M85.0,108.4 85.6,108.3 86.4,108.3 87.2,108.4 87.8,108.6 88.2,108.8 88.6,109.2 89.0,109.7 89.3,110.2 89.5,110.8 89.6,111.4 89.6,112.2 89.5,112.8 89.3,113.4 89.0,113.9 88.6,114.4 88.2,114.8 87.8,115.1 87.2,115.4 86.8,115.6 86.2,115.8 85.6,115.8 85.0,115.6 84.4,115.2 83.9,115.0 83.4,114.8 82.8,114.6 82.2,114.3 81.6,114.1 81.2,113.8 80.7,113.4 80.4,113.0 80.2,112.4 80.1,111.6 80.2,111.0 80.6,110.4 80.9,110.0 81.4,109.7 81.9,109.4 82.4,109.2 83.0,109.0 83.6,108.8 84.2,108.6 85.0,108.4Z" stroke-opacity="0.62"/>
<path d="M86.0,108.8 86.4,108.8 86.8,108.8 87.4,109.0 87.8,109.2 88.1,109.4 88.4,109.7 88.6,110.0 88.9,110.4 89.0,110.8 89.2,111.4 89.2,112.0 89.1,112.6 89.0,113.0 88.8,113.4 88.5,113.8 88.2,114.1 87.8,114.4 87.5,114.6 87.0,114.8 86.6,114.9 86.0,114.9 85.4,114.8 85.0,114.7 84.6,114.5 84.2,114.4 83.8,114.2 83.4,114.0 83.0,113.8 82.6,113.5 82.2,113.3 81.9,113.0 81.6,112.7 81.4,112.3 81.3,111.8 81.4,111.3 81.6,110.9 81.9,110.6 82.2,110.3 82.6,110.1 83.0,109.8 83.4,109.6 83.8,109.5 84.2,109.3 84.6,109.1 85.0,109.0 85.6,108.8Z" stroke-opacity="0.66"/>
<path d="M85.6,109.4 85.8,109.4 86.2,109.3 86.6,109.3 87.0,109.4 87.2,109.5 87.5,109.6 87.8,109.8 88.0,110.0 88.2,110.2 88.3,110.4 88.4,110.6 88.6,111.0 88.7,111.2 88.7,111.6 88.7,112.0 88.7,112.4 88.6,112.6 88.4,113.0 88.3,113.2 88.2,113.4 88.0,113.6 87.8,113.8 87.5,114.0 87.2,114.1 87.0,114.2 86.6,114.3 86.2,114.3 85.8,114.3 85.4,114.2 85.2,114.1 84.9,114.0 84.6,113.8 84.4,113.7 84.2,113.6 83.9,113.4 83.6,113.2 83.4,113.0 83.2,112.8 83.1,112.6 82.9,112.4 82.8,112.1 82.8,111.8 82.8,111.5 82.9,111.2 83.1,111.0 83.2,110.8 83.4,110.6 83.6,110.4 83.9,110.2 84.2,110.0 84.4,109.9 84.6,109.8 85.0,109.6 85.2,109.5 85.6,109.4Z" stroke-opacity="0.72"/>
<path d="M85.4,110.0 85.8,109.9 86.2,109.8 86.6,109.8 87.0,109.9 87.2,110.0 87.5,110.2 87.7,110.4 87.9,110.6 88.0,110.8 88.2,111.2 88.2,111.4 88.3,111.8 88.2,112.2 88.2,112.4 88.0,112.8 87.9,113.0 87.7,113.2 87.5,113.4 87.2,113.6 87.0,113.7 86.6,113.8 86.2,113.8 85.8,113.7 85.4,113.6 85.2,113.5 85.0,113.4 84.7,113.2 84.5,113.0 84.3,112.8 84.1,112.6 84.0,112.3 83.9,112.0 83.9,111.6 84.0,111.3 84.1,111.0 84.3,110.8 84.5,110.6 84.7,110.4 85.0,110.2 85.2,110.1 85.4,110.0Z" stroke-opacity="0.8"/>
<path d="M85.9,110.4 86.0,110.4 86.2,110.3 86.4,110.3 86.6,110.3 86.8,110.4 86.8,110.4 87.0,110.5 87.2,110.6 87.2,110.6 87.4,110.8 87.4,110.8 87.6,111.0 87.6,111.0 87.7,111.2 87.7,111.4 87.8,111.6 87.8,111.8 87.8,112.0 87.7,112.2 87.7,112.4 87.6,112.6 87.6,112.6 87.4,112.8 87.4,112.8 87.2,113.0 87.2,113.0 87.0,113.1 86.8,113.2 86.8,113.2 86.6,113.3 86.4,113.3 86.2,113.3 86.0,113.2 85.8,113.2 85.8,113.2 85.6,113.1 85.4,113.0 85.4,113.0 85.2,112.8 85.2,112.8 85.0,112.6 85.0,112.6 84.8,112.4 84.8,112.3 84.7,112.2 84.7,112.0 84.7,111.8 84.7,111.6 84.7,111.4 84.8,111.3 84.8,111.2 85.0,111.0 85.0,111.0 85.2,110.8 85.2,110.8 85.4,110.6 85.4,110.6 85.6,110.5 85.8,110.4 85.9,110.4Z" stroke-opacity="0.88"/>
<path d="M85.8,111.0 86.0,110.9 86.2,110.9 86.4,110.8 86.6,110.9 86.8,110.9 86.9,111.0 87.0,111.1 87.1,111.2 87.2,111.4 87.2,111.4 87.3,111.6 87.3,111.8 87.3,112.0 87.2,112.2 87.2,112.2 87.1,112.4 87.0,112.5 86.9,112.6 86.8,112.7 86.6,112.7 86.4,112.8 86.2,112.7 86.0,112.7 85.8,112.6 85.8,112.6 85.6,112.4 85.6,112.4 85.4,112.2 85.4,112.1 85.4,112.0 85.3,111.8 85.4,111.6 85.4,111.5 85.4,111.4 85.6,111.2 85.6,111.2 85.8,111.0 85.8,111.0Z" stroke-opacity="0.95"/>
</g>
<rect x="89.2" y="103.3" width="24.6" height="21.9" fill="none" stroke="#bdbdbd" stroke-width="0.8"/>
<text x="105.8" y="101.5" font-size="10.4" fill="#000" textLength="11.6" lengthAdjust="spacingAndGlyphs" style="stroke-width:.14px">2.9</text>
<line x1="121" y1="140.4" x2="162.8" y2="140.4" stroke="#adadad" stroke-width="0.9"/>
<ellipse cx="131.4" cy="111.2" rx="5.52" ry="6.24" fill="url(#core)"/>
<g fill="none" stroke="#484848" stroke-width="0.5" stroke-linejoin="round">
<path d="M129.7,105.0 131.2,104.9 132.6,105.1 133.8,105.6 134.7,106.2 135.5,107.0 136.1,108.0 136.6,109.2 136.9,110.4 136.9,112.0 136.6,113.2 136.1,114.4 135.5,115.4 134.7,116.2 133.8,116.8 132.6,117.4 131.6,118.0 131.3,119.2 131.0,120.6 130.5,121.6 129.4,122.1 128.5,121.4 128.0,120.2 127.8,118.8 127.5,117.6 126.4,117.2 125.0,116.8 124.0,116.4 123.0,115.7 122.3,114.8 121.9,113.6 121.7,112.2 121.7,110.6 121.9,109.2 122.4,108.0 123.1,107.2 124.0,106.6 125.2,106.1 126.4,105.8 127.8,105.4 129.0,105.1Z" stroke-opacity="0.62"/>
<path d="M129.8,106.0 131.2,105.9 132.4,106.1 133.4,106.5 134.2,107.1 134.9,107.8 135.4,108.7 135.8,109.7 136.0,111.0 135.9,112.4 135.6,113.4 135.0,114.4 134.4,115.2 133.6,115.8 132.8,116.2 131.6,116.6 130.8,117.2 130.8,118.4 130.7,119.8 130.3,120.8 129.2,121.1 128.6,120.2 128.4,119.0 128.5,117.6 128.2,116.6 127.2,116.2 126.0,115.9 125.0,115.5 124.1,115.0 123.4,114.4 122.8,113.6 122.4,112.4 122.4,111.2 122.6,110.0 123.0,109.1 123.6,108.4 124.4,107.8 125.4,107.3 126.4,106.9 127.5,106.6 128.6,106.3 129.8,106.0Z" stroke-opacity="0.6"/>
<path d="M129.7,106.8 130.6,106.7 131.6,106.7 132.4,106.9 133.1,107.2 133.7,107.6 134.2,108.1 134.6,108.7 135.0,109.4 135.2,110.2 135.3,111.0 135.2,112.0 135.0,112.8 134.8,113.4 134.4,114.0 133.9,114.6 133.4,115.0 132.8,115.4 132.0,115.7 131.2,115.9 130.4,116.0 129.4,116.0 128.8,115.8 128.0,115.5 127.2,115.3 126.4,115.1 125.7,114.8 125.0,114.5 124.4,114.0 124.0,113.6 123.6,113.0 123.3,112.2 123.3,111.2 123.4,110.4 123.8,109.7 124.2,109.2 124.8,108.7 125.4,108.3 126.0,108.0 126.8,107.7 127.6,107.4 128.3,107.2 129.0,107.0Z" stroke-opacity="0.6"/>
<path d="M129.4,117.8 129.4,117.8 129.6,117.7 129.8,117.8 129.8,117.8 130.0,118.0 130.0,118.0 130.1,118.2 130.2,118.4 130.2,118.6 130.2,118.6 130.2,118.8 130.2,119.0 130.2,119.2 130.2,119.4 130.2,119.5 130.2,119.6 130.1,119.8 130.0,120.0 130.0,120.0 129.8,120.2 129.8,120.2 129.6,120.3 129.4,120.2 129.4,120.2 129.2,120.0 129.2,120.0 129.1,119.8 129.0,119.6 129.0,119.5 129.0,119.4 129.0,119.2 129.0,119.0 129.0,118.8 129.0,118.6 129.0,118.6 129.1,118.4 129.1,118.2 129.2,118.0 129.2,118.0 129.4,117.8Z" stroke-opacity="0.6"/>
<path d="M130.1,107.4 130.8,107.3 131.6,107.4 132.2,107.5 132.8,107.8 133.2,108.1 133.6,108.4 134.0,108.9 134.3,109.4 134.5,110.0 134.6,110.6 134.7,111.4 134.6,112.0 134.4,112.7 134.2,113.2 133.8,113.8 133.4,114.2 133.0,114.5 132.5,114.8 132.0,115.0 131.2,115.2 130.6,115.2 130.0,115.2 129.2,115.0 128.6,114.9 128.0,114.7 127.4,114.5 126.8,114.3 126.2,114.1 125.7,113.8 125.2,113.4 124.8,113.0 124.5,112.6 124.3,112.0 124.3,111.2 124.4,110.6 124.8,110.0 125.1,109.6 125.6,109.2 126.0,109.0 126.6,108.7 127.2,108.4 127.7,108.2 128.2,108.0 128.8,107.8 129.4,107.6 130.1,107.4Z" stroke-opacity="0.62"/>
<path d="M130.1,108.0 130.6,107.9 131.2,107.9 131.7,108.0 132.2,108.2 132.6,108.4 132.9,108.6 133.2,108.8 133.5,109.2 133.7,109.6 133.9,110.0 134.0,110.4 134.1,111.0 134.1,111.6 134.0,112.2 133.8,112.6 133.6,113.0 133.4,113.4 133.2,113.6 132.8,113.9 132.4,114.2 132.0,114.4 131.6,114.5 131.0,114.6 130.4,114.6 129.8,114.5 129.3,114.4 128.8,114.2 128.4,114.1 128.0,114.0 127.6,113.8 127.1,113.6 126.8,113.4 126.4,113.2 126.0,112.9 125.8,112.6 125.5,112.2 125.4,111.8 125.4,111.2 125.5,110.8 125.7,110.4 126.0,110.1 126.3,109.8 126.6,109.6 127.0,109.3 127.4,109.1 127.8,108.9 128.2,108.7 128.6,108.5 129.0,108.3 129.4,108.2 130.0,108.0Z" stroke-opacity="0.66"/>
<path d="M130.1,108.6 130.6,108.5 131.2,108.5 131.7,108.6 132.2,108.8 132.5,109.0 132.8,109.2 133.1,109.6 133.3,110.0 133.5,110.4 133.6,111.0 133.6,111.6 133.4,112.2 133.2,112.6 133.0,113.0 132.8,113.2 132.4,113.5 132.0,113.8 131.6,113.9 131.0,114.0 130.6,114.0 130.2,114.0 129.6,113.8 129.2,113.7 128.8,113.6 128.4,113.4 128.0,113.2 127.6,112.9 127.2,112.6 127.0,112.4 126.7,112.0 126.6,111.4 126.8,110.8 127.0,110.5 127.3,110.2 127.6,109.9 128.0,109.6 128.3,109.4 128.7,109.2 129.0,109.0 129.5,108.8 130.0,108.6Z" stroke-opacity="0.72"/>
<path d="M130.0,109.2 130.4,109.1 130.8,109.1 131.2,109.1 131.6,109.2 131.8,109.2 132.1,109.4 132.4,109.6 132.6,109.8 132.7,110.0 132.8,110.2 133.0,110.6 133.0,110.8 133.1,111.2 133.0,111.6 133.0,111.8 132.8,112.2 132.7,112.4 132.6,112.6 132.4,112.8 132.2,113.0 131.9,113.2 131.6,113.3 131.3,113.4 131.0,113.4 130.6,113.4 130.3,113.4 130.0,113.3 129.6,113.2 129.4,113.1 129.1,113.0 128.8,112.8 128.6,112.6 128.4,112.5 128.2,112.3 128.0,112.0 127.9,111.8 127.8,111.4 127.9,111.0 128.0,110.8 128.2,110.5 128.4,110.2 128.6,110.0 128.8,109.9 129.0,109.7 129.2,109.6 129.6,109.4 129.8,109.3 130.0,109.2Z" stroke-opacity="0.8"/>
<path d="M130.0,109.8 130.2,109.7 130.4,109.7 130.6,109.6 130.8,109.6 131.0,109.6 131.2,109.6 131.4,109.7 131.6,109.8 131.7,109.8 131.8,109.9 132.0,110.0 132.0,110.0 132.2,110.2 132.2,110.2 132.3,110.4 132.4,110.6 132.4,110.6 132.5,110.8 132.5,111.0 132.5,111.2 132.5,111.4 132.5,111.6 132.4,111.8 132.4,111.9 132.3,112.0 132.2,112.2 132.2,112.2 132.0,112.4 132.0,112.4 131.8,112.6 131.8,112.6 131.6,112.7 131.4,112.8 131.4,112.8 131.2,112.9 131.0,112.9 130.8,112.9 130.6,112.9 130.4,112.8 130.2,112.8 130.2,112.8 130.0,112.7 129.8,112.6 129.7,112.6 129.6,112.5 129.4,112.4 129.4,112.4 129.2,112.2 129.2,112.2 129.0,112.0 129.0,111.9 128.9,111.8 128.8,111.6 128.8,111.4 128.8,111.2 128.9,111.0 128.9,110.8 129.0,110.7 129.1,110.6 129.2,110.4 129.2,110.4 129.4,110.2 129.4,110.2 129.6,110.1 129.7,110.0 129.8,109.9 130.0,109.8 130.0,109.8Z" stroke-opacity="0.88"/>
<path d="M130.7,110.2 130.8,110.2 131.0,110.2 131.1,110.2 131.2,110.2 131.4,110.3 131.6,110.4 131.6,110.4 131.8,110.6 131.8,110.7 131.9,110.8 131.9,111.0 132.0,111.2 131.9,111.4 131.9,111.6 131.8,111.8 131.8,111.8 131.6,112.0 131.6,112.0 131.4,112.2 131.3,112.2 131.2,112.3 131.0,112.3 130.8,112.3 130.6,112.3 130.4,112.2 130.3,112.2 130.2,112.2 130.0,112.0 130.0,112.0 129.8,111.8 129.8,111.8 129.7,111.6 129.6,111.4 129.6,111.2 129.7,111.0 129.8,110.8 129.8,110.8 129.9,110.6 130.0,110.5 130.2,110.4 130.2,110.4 130.4,110.3 130.6,110.2 130.7,110.2Z" stroke-opacity="0.95"/>
</g>
<rect x="133.8" y="103.3" width="24.6" height="21.9" fill="none" stroke="#bdbdbd" stroke-width="0.8"/>
<text x="149.6" y="101.5" font-size="10.4" fill="#000" textLength="11.7" lengthAdjust="spacingAndGlyphs" style="stroke-width:.14px">5.5</text>
<line x1="168.1" y1="140.4" x2="211.6" y2="140.4" stroke="#adadad" stroke-width="0.9"/>
<ellipse cx="174.4" cy="110" rx="5.76" ry="6.72" fill="url(#core)"/>
<g fill="none" stroke="#484848" stroke-width="0.5" stroke-linejoin="round">
<path d="M173.0,103.4 174.4,103.3 175.7,103.6 176.8,104.1 177.7,104.8 178.5,105.6 179.2,106.6 179.7,107.6 180.1,108.8 180.3,110.2 180.2,111.6 179.8,113.0 179.4,114.0 178.7,115.0 177.9,115.8 177.0,116.5 176.3,117.4 176.6,118.6 177.2,119.7 177.4,121.0 177.2,122.2 176.6,123.2 175.6,123.9 174.4,124.2 173.2,123.9 172.2,123.2 171.6,122.2 171.3,121.0 171.3,119.4 170.6,118.4 169.8,117.7 169.2,116.6 169.0,115.4 168.8,113.8 168.8,112.4 168.8,111.0 169.0,109.4 169.1,108.0 169.4,106.6 169.8,105.6 170.6,104.6 171.4,104.0 172.6,103.5Z" stroke-opacity="0.62"/>
<path d="M173.9,104.4 175.2,104.6 176.3,105.0 177.2,105.7 178.0,106.5 178.6,107.5 179.0,108.6 179.3,110.0 179.2,111.6 178.8,112.8 178.3,113.8 177.6,114.6 176.7,115.4 175.8,116.1 174.9,116.8 174.1,117.6 174.6,118.3 175.6,119.0 176.3,119.8 176.5,121.2 176.1,122.4 175.2,123.1 173.8,123.2 172.9,122.6 172.3,121.6 172.3,120.0 172.8,118.9 172.8,118.0 171.6,117.6 170.5,117.0 169.8,116.2 169.4,115.0 169.2,113.6 169.2,112.0 169.3,110.6 169.5,109.2 169.8,107.8 170.2,106.7 170.9,105.8 171.8,105.0 172.8,104.6Z" stroke-opacity="0.6"/>
<path d="M173.0,105.4 173.8,105.2 174.8,105.3 175.6,105.5 176.2,105.9 176.8,106.3 177.3,106.8 177.7,107.4 178.0,108.0 178.4,108.8 178.5,109.6 178.6,110.6 178.4,111.6 178.2,112.4 177.9,113.0 177.5,113.6 177.0,114.1 176.5,114.6 176.0,115.0 175.4,115.4 174.8,115.8 174.1,116.2 173.4,116.5 172.6,116.7 171.6,116.6 171.0,116.3 170.4,115.8 170.0,115.2 169.8,114.6 169.6,113.6 169.6,112.8 169.6,111.9 169.7,111.0 169.8,110.2 170.0,109.2 170.2,108.5 170.5,107.8 170.8,107.2 171.2,106.6 171.8,106.0 172.4,105.6Z" stroke-opacity="0.6"/>
<path d="M173.8,119.6 174.0,119.5 174.2,119.5 174.4,119.5 174.6,119.5 174.8,119.6 174.9,119.6 175.0,119.7 175.2,119.8 175.2,119.8 175.4,120.0 175.4,120.0 175.5,120.2 175.6,120.4 175.6,120.4 175.7,120.6 175.7,120.8 175.7,121.0 175.7,121.2 175.7,121.4 175.6,121.6 175.6,121.6 175.5,121.8 175.4,121.9 175.3,122.0 175.2,122.1 175.1,122.2 175.0,122.2 174.8,122.3 174.6,122.4 174.4,122.4 174.4,122.4 174.4,122.4 174.2,122.4 174.0,122.3 173.8,122.2 173.7,122.2 173.6,122.1 173.5,122.0 173.4,121.9 173.3,121.8 173.2,121.6 173.2,121.6 173.1,121.4 173.1,121.2 173.1,121.0 173.1,120.8 173.1,120.6 173.1,120.4 173.2,120.3 173.2,120.2 173.3,120.0 173.4,119.9 173.5,119.8 173.6,119.7 173.8,119.6 173.8,119.6Z" stroke-opacity="0.6"/>
<path d="M173.6,106.0 174.4,106.0 175.0,106.1 175.6,106.3 176.1,106.6 176.6,107.0 176.9,107.4 177.2,107.8 177.5,108.4 177.7,109.0 177.9,109.6 177.9,110.4 177.9,111.2 177.7,111.8 177.5,112.4 177.2,112.8 176.8,113.3 176.4,113.8 176.0,114.1 175.6,114.4 175.0,114.8 174.6,115.1 174.0,115.4 173.6,115.6 173.0,115.8 172.2,115.9 171.6,115.7 171.0,115.4 170.7,115.0 170.4,114.6 170.2,114.0 170.1,113.2 170.0,112.4 170.1,111.6 170.2,110.8 170.3,110.2 170.5,109.6 170.6,109.0 170.9,108.4 171.2,107.8 171.4,107.4 171.8,107.0 172.2,106.6 172.8,106.2 173.4,106.0Z" stroke-opacity="0.62"/>
<path d="M173.2,106.8 173.6,106.7 174.2,106.6 174.8,106.7 175.2,106.8 175.6,107.0 176.0,107.3 176.3,107.6 176.6,107.9 176.8,108.2 177.0,108.6 177.2,109.1 177.3,109.6 177.4,110.2 177.3,110.8 177.2,111.4 177.1,111.8 176.9,112.2 176.6,112.6 176.4,112.9 176.1,113.2 175.8,113.5 175.4,113.8 175.1,114.0 174.8,114.2 174.4,114.5 174.0,114.7 173.6,114.9 173.2,115.0 172.6,115.1 172.0,115.0 171.6,114.9 171.3,114.6 171.0,114.3 170.8,113.8 170.7,113.4 170.6,113.0 170.6,112.4 170.6,111.8 170.6,111.4 170.7,110.8 170.8,110.4 171.0,109.8 171.1,109.4 171.2,109.0 171.4,108.6 171.6,108.2 171.9,107.8 172.2,107.4 172.5,107.2 172.8,107.0Z" stroke-opacity="0.66"/>
<path d="M173.4,107.4 173.8,107.3 174.4,107.3 175.0,107.4 175.4,107.6 175.7,107.8 176.0,108.1 176.2,108.4 176.5,108.8 176.6,109.2 176.8,109.8 176.8,110.2 176.8,110.6 176.7,111.2 176.5,111.6 176.3,112.0 176.1,112.4 175.8,112.7 175.5,113.0 175.2,113.2 174.8,113.5 174.4,113.7 174.0,114.0 173.6,114.1 173.2,114.2 172.6,114.3 172.2,114.2 171.8,114.0 171.5,113.6 171.3,113.2 171.2,112.7 171.2,112.2 171.2,111.6 171.2,111.2 171.3,110.6 171.4,110.2 171.6,109.6 171.7,109.2 171.9,108.8 172.2,108.4 172.4,108.1 172.7,107.8 173.0,107.6Z" stroke-opacity="0.72"/>
<path d="M173.6,108.0 173.8,107.9 174.2,107.9 174.6,107.9 174.8,108.0 175.2,108.2 175.4,108.3 175.6,108.5 175.8,108.8 175.9,109.0 176.0,109.2 176.2,109.6 176.2,109.8 176.3,110.2 176.2,110.6 176.2,110.9 176.1,111.2 176.0,111.4 175.8,111.8 175.7,112.0 175.5,112.2 175.3,112.4 175.1,112.6 174.8,112.8 174.6,112.9 174.4,113.0 174.1,113.2 173.8,113.3 173.5,113.4 173.2,113.5 172.8,113.5 172.6,113.4 172.3,113.2 172.1,113.0 172.0,112.8 171.8,112.4 171.8,112.2 171.8,111.8 171.8,111.4 171.8,111.0 171.8,110.8 171.9,110.4 172.0,110.0 172.1,109.8 172.2,109.5 172.3,109.2 172.4,109.0 172.6,108.8 172.8,108.5 173.0,108.3 173.2,108.2 173.6,108.0Z" stroke-opacity="0.8"/>
<path d="M173.7,108.6 173.8,108.6 174.0,108.5 174.2,108.5 174.4,108.5 174.6,108.6 174.7,108.6 174.8,108.7 175.0,108.8 175.0,108.8 175.2,108.9 175.2,109.0 175.4,109.2 175.4,109.2 175.5,109.4 175.6,109.6 175.6,109.6 175.7,109.8 175.7,110.0 175.7,110.2 175.7,110.4 175.7,110.6 175.7,110.8 175.6,111.0 175.6,111.0 175.5,111.2 175.4,111.4 175.4,111.4 175.3,111.6 175.2,111.7 175.1,111.8 175.0,111.9 174.9,112.0 174.8,112.1 174.6,112.2 174.6,112.2 174.4,112.3 174.3,112.4 174.2,112.4 174.0,112.5 173.8,112.6 173.7,112.6 173.6,112.6 173.4,112.6 173.2,112.6 173.1,112.6 173.0,112.6 172.8,112.4 172.8,112.4 172.6,112.2 172.6,112.2 172.5,112.0 172.4,111.8 172.4,111.6 172.4,111.6 172.4,111.4 172.4,111.2 172.4,111.0 172.4,110.8 172.4,110.7 172.4,110.6 172.5,110.4 172.5,110.2 172.6,110.0 172.6,109.9 172.6,109.8 172.7,109.6 172.8,109.5 172.8,109.4 173.0,109.2 173.0,109.2 173.1,109.0 173.2,108.9 173.4,108.8 173.4,108.8 173.6,108.7 173.7,108.6Z" stroke-opacity="0.88"/>
<path d="M174.0,109.2 174.0,109.2 174.2,109.2 174.4,109.2 174.4,109.2 174.6,109.3 174.8,109.4 174.8,109.4 174.9,109.6 175.0,109.7 175.1,109.8 175.1,110.0 175.1,110.2 175.1,110.4 175.1,110.6 175.1,110.8 175.0,110.9 175.0,111.0 174.8,111.2 174.8,111.3 174.7,111.4 174.6,111.5 174.4,111.6 174.4,111.6 174.2,111.7 174.0,111.8 173.9,111.8 173.8,111.8 173.6,111.8 173.6,111.8 173.4,111.7 173.2,111.6 173.2,111.6 173.1,111.4 173.0,111.2 173.0,111.0 173.0,111.0 173.0,110.8 173.0,110.6 173.0,110.6 173.0,110.4 173.1,110.2 173.2,110.0 173.2,109.9 173.3,109.8 173.4,109.6 173.4,109.6 173.6,109.4 173.6,109.4 173.8,109.3 174.0,109.2Z" stroke-opacity="0.95"/>
</g>
<rect x="180.5" y="103.3" width="25.1" height="21.9" fill="none" stroke="#bdbdbd" stroke-width="0.8"/>
<text x="197.7" y="101.5" font-size="10.4" fill="#000" textLength="11.6" lengthAdjust="spacingAndGlyphs" style="stroke-width:.14px">2.8</text>
<line x1="20.5" y1="116.6" x2="20.5" y2="44" stroke="#000" stroke-width="1.5"/>
<polygon points="20.5,39.6 18,45.2 23,45.2" fill="#000"/>
<line x1="63.3" y1="150" x2="206.5" y2="150" stroke="#000" stroke-width="1.6"/>
<polygon points="211.2,150 205.4,147.6 205.4,152.4" fill="#000"/>
<text x="28.6" y="153.4" font-size="11.45" fill="#111">CD107</text>
<text transform="translate(23.8,143.2) rotate(-90)" font-size="11.8" fill="#111">CD8</text>
</g>
<g id="panelB">
<line x1="285.4" y1="140.45" x2="285.4" y2="39.2" stroke="#111" stroke-width="1.7"/>
<line x1="284.55" y1="139.6" x2="418.4" y2="139.6" stroke="#111" stroke-width="1.7"/>
<line x1="282" y1="139.6" x2="285.4" y2="139.6" stroke="#111" stroke-width="1.3"/>
<text x="281.2" y="143.5" font-size="11.7" text-anchor="end" fill="#111">0</text>
<line x1="282" y1="114.5" x2="285.4" y2="114.5" stroke="#111" stroke-width="1.3"/>
<text x="281.2" y="118.4" font-size="11.7" text-anchor="end" fill="#111">20</text>
<line x1="282" y1="89.4" x2="285.4" y2="89.4" stroke="#111" stroke-width="1.3"/>
<text x="281.2" y="93.3" font-size="11.7" text-anchor="end" fill="#111">40</text>
<line x1="282" y1="64.3" x2="285.4" y2="64.3" stroke="#111" stroke-width="1.3"/>
<text x="281.2" y="68.2" font-size="11.7" text-anchor="end" fill="#111">60</text>
<line x1="282" y1="39.2" x2="285.4" y2="39.2" stroke="#111" stroke-width="1.3"/>
<text x="281.2" y="43.1" font-size="11.7" text-anchor="end" fill="#111">80</text>
<text x="285.8" y="153.6" font-size="11.7" text-anchor="middle" fill="#111">0</text>
<text x="319.05" y="153.6" font-size="11.7" text-anchor="middle" fill="#111">50</text>
<text x="352.3" y="153.6" font-size="11.7" text-anchor="middle" fill="#111">100</text>
<text x="385.55" y="153.6" font-size="11.7" text-anchor="middle" fill="#111">150</text>
<text x="418.8" y="153.6" font-size="11.7" text-anchor="middle" fill="#111">200</text>
<text x="352.4" y="171" font-size="12.7" text-anchor="middle" fill="#111">time (min)</text>
<text transform="translate(256.0,90.8) rotate(-90)" font-size="12.1" text-anchor="middle" fill="#111">ΔCD107 (%)</text>
<line x1="305.5" y1="118.5" x2="305.5" y2="126.5" stroke="#111" stroke-width="1.15"/>
<line x1="303" y1="118.5" x2="308" y2="118.5" stroke="#111" stroke-width="1.15"/>
<line x1="303" y1="126.5" x2="308" y2="126.5" stroke="#111" stroke-width="1.15"/>
<line x1="325.5" y1="102.5" x2="325.5" y2="115.5" stroke="#111" stroke-width="1.15"/>
<line x1="323" y1="102.5" x2="328" y2="102.5" stroke="#111" stroke-width="1.15"/>
<line x1="323" y1="115.5" x2="328" y2="115.5" stroke="#111" stroke-width="1.15"/>
<line x1="405.5" y1="66.5" x2="405.5" y2="75.5" stroke="#111" stroke-width="1.15"/>
<line x1="403" y1="66.5" x2="408" y2="66.5" stroke="#111" stroke-width="1.15"/>
<line x1="403" y1="75.5" x2="408" y2="75.5" stroke="#111" stroke-width="1.15"/>
<polyline fill="none" stroke="#111" stroke-width="1.5" points="295.5,130.56 305.5,122.66 325.5,108.98 405.5,70.95"/>
<rect x="293.5" y="128.56" width="4" height="4" fill="#111"/>
<rect x="303.5" y="120.66" width="4" height="4" fill="#111"/>
<rect x="323.5" y="106.98" width="4" height="4" fill="#111"/>
<rect x="403.5" y="68.95" width="4" height="4" fill="#111"/>
<line x1="305.5" y1="132.5" x2="305.5" y2="135.5" stroke="#111" stroke-width="1.15"/>
<line x1="303" y1="132.5" x2="308" y2="132.5" stroke="#111" stroke-width="1.15"/>
<line x1="303" y1="135.5" x2="308" y2="135.5" stroke="#111" stroke-width="1.15"/>
<line x1="325.5" y1="129.5" x2="325.5" y2="135.5" stroke="#111" stroke-width="1.15"/>
<line x1="323" y1="129.5" x2="328" y2="129.5" stroke="#111" stroke-width="1.15"/>
<line x1="323" y1="135.5" x2="328" y2="135.5" stroke="#111" stroke-width="1.15"/>
<line x1="405.5" y1="119.5" x2="405.5" y2="129.5" stroke="#111" stroke-width="1.15"/>
<line x1="403" y1="119.5" x2="408" y2="119.5" stroke="#111" stroke-width="1.15"/>
<line x1="403" y1="129.5" x2="408" y2="129.5" stroke="#111" stroke-width="1.15"/>
<polyline fill="none" stroke="#111" stroke-width="1.5" points="295.5,137.09 305.5,133.95 325.5,132.82 405.5,124.04"/>
<rect x="293.3" y="134.89" width="4.4" height="4.4" fill="#fff" stroke="#111" stroke-width="1.2"/>
<rect x="303.3" y="131.75" width="4.4" height="4.4" fill="#fff" stroke="#111" stroke-width="1.2"/>
<rect x="323.3" y="130.62" width="4.4" height="4.4" fill="#fff" stroke="#111" stroke-width="1.2"/>
<rect x="403.3" y="121.84" width="4.4" height="4.4" fill="#fff" stroke="#111" stroke-width="1.2"/>
<line x1="305.5" y1="132.5" x2="305.5" y2="135.5" stroke="#8c8c8c" stroke-width="1.15"/>
<line x1="303" y1="132.5" x2="308" y2="132.5" stroke="#8c8c8c" stroke-width="1.15"/>
<line x1="303" y1="135.5" x2="308" y2="135.5" stroke="#8c8c8c" stroke-width="1.15"/>
<line x1="325.5" y1="127.5" x2="325.5" y2="134.5" stroke="#8c8c8c" stroke-width="1.15"/>
<line x1="323" y1="127.5" x2="328" y2="127.5" stroke="#8c8c8c" stroke-width="1.15"/>
<line x1="323" y1="134.5" x2="328" y2="134.5" stroke="#8c8c8c" stroke-width="1.15"/>
<line x1="405.5" y1="118.5" x2="405.5" y2="127.5" stroke="#8c8c8c" stroke-width="1.15"/>
<line x1="403" y1="118.5" x2="408" y2="118.5" stroke="#8c8c8c" stroke-width="1.15"/>
<line x1="403" y1="127.5" x2="408" y2="127.5" stroke="#8c8c8c" stroke-width="1.15"/>
<polyline fill="none" stroke="#8c8c8c" stroke-width="1.5" points="295.5,136.46 305.5,133.95 325.5,130.81 405.5,123.03"/>
<polygon points="295.5,134.23 293.16,138.14 297.84,138.14" fill="#8c8c8c"/>
<polygon points="305.5,131.72 303.16,135.63 307.84,135.63" fill="#8c8c8c"/>
<polygon points="325.5,128.58 323.16,132.49 327.84,132.49" fill="#8c8c8c"/>
<polygon points="405.5,120.8 403.16,124.71 407.84,124.71" fill="#8c8c8c"/>
<line x1="305.5" y1="102.5" x2="305.5" y2="128.5" stroke="#8c8c8c" stroke-width="1.15"/>
<line x1="303" y1="102.5" x2="308" y2="102.5" stroke="#8c8c8c" stroke-width="1.15"/>
<line x1="303" y1="128.5" x2="308" y2="128.5" stroke="#8c8c8c" stroke-width="1.15"/>
<line x1="325.5" y1="87.5" x2="325.5" y2="114.5" stroke="#8c8c8c" stroke-width="1.15"/>
<line x1="323" y1="87.5" x2="328" y2="87.5" stroke="#8c8c8c" stroke-width="1.15"/>
<line x1="323" y1="114.5" x2="328" y2="114.5" stroke="#8c8c8c" stroke-width="1.15"/>
<line x1="405.5" y1="62.5" x2="405.5" y2="82.5" stroke="#8c8c8c" stroke-width="1.15"/>
<line x1="403" y1="62.5" x2="408" y2="62.5" stroke="#8c8c8c" stroke-width="1.15"/>
<line x1="403" y1="82.5" x2="408" y2="82.5" stroke="#8c8c8c" stroke-width="1.15"/>
<polyline fill="none" stroke="#8c8c8c" stroke-width="1.5" points="295.5,136.46 305.5,115 325.5,100.95 405.5,72.83"/>
<circle cx="295.5" cy="136.46" r="1.94" fill="#8c8c8c"/>
<circle cx="305.5" cy="115" r="1.94" fill="#8c8c8c"/>
<circle cx="325.5" cy="100.95" r="1.94" fill="#8c8c8c"/>
<circle cx="405.5" cy="72.83" r="1.94" fill="#8c8c8c"/>
<text x="325.8" y="85.46" font-size="8" text-anchor="middle" font-weight="bold" fill="#111" letter-spacing="0.9">**</text>
<text x="405.6" y="60.86" font-size="8" text-anchor="middle" font-weight="bold" fill="#111" letter-spacing="0.9">***</text>
<line x1="414.3" y1="18.8" x2="434" y2="18.8" stroke="#111" stroke-width="1.5"/>
<rect x="421.05" y="15.7" width="6.2" height="6.2" fill="#111"/>
<text x="441" y="22.55" font-size="10.7" fill="#111">B6</text>
<line x1="414.3" y1="32" x2="434" y2="32" stroke="#111" stroke-width="1.5"/>
<rect x="421.35" y="29.2" width="5.6" height="5.6" fill="#fff" stroke="#111" stroke-width="1.2"/>
<text x="441" y="35.74" font-size="10.7" font-style="italic" fill="#111">Stx11<tspan font-size="6.6" dy="-3.85" fill="#2a2a2a">-/-</tspan></text>
<line x1="414.3" y1="44.4" x2="434" y2="44.4" stroke="#8c8c8c" stroke-width="1.5"/>
<polygon points="424.15,40.56 420.11,47.28 428.19,47.28" fill="#8c8c8c"/>
<text x="441" y="48.14" font-size="10.7" font-style="italic" fill="#111">Rab27a<tspan font-size="6.6" dy="-3.85" fill="#2a2a2a">-/-</tspan></text>
<line x1="414.3" y1="56" x2="434" y2="56" stroke="#8c8c8c" stroke-width="1.5"/>
<circle cx="424.15" cy="56" r="2.7" fill="#8c8c8c"/>
<text x="441" y="59.74" font-size="10.7" font-style="italic" fill="#111">Prf1<tspan font-size="6.6" dy="-3.85" fill="#2a2a2a">-/-</tspan></text>
</g>
<g id="panelC">
<line x1="37.4" y1="314.85" x2="37.4" y2="212" stroke="#111" stroke-width="1.7"/>
<line x1="36.55" y1="314" x2="170.9" y2="314" stroke="#111" stroke-width="1.7"/>
<line x1="34" y1="314" x2="37.4" y2="314" stroke="#111" stroke-width="1.3"/>
<text x="33.2" y="319.6" font-size="11.7" text-anchor="end" fill="#111">0</text>
<line x1="34" y1="288.5" x2="37.4" y2="288.5" stroke="#111" stroke-width="1.3"/>
<text x="33.2" y="292.4" font-size="11.7" text-anchor="end" fill="#111">20</text>
<line x1="34" y1="263" x2="37.4" y2="263" stroke="#111" stroke-width="1.3"/>
<text x="33.2" y="266.9" font-size="11.7" text-anchor="end" fill="#111">40</text>
<line x1="34" y1="237.5" x2="37.4" y2="237.5" stroke="#111" stroke-width="1.3"/>
<text x="33.2" y="241.4" font-size="11.7" text-anchor="end" fill="#111">60</text>
<line x1="34" y1="212" x2="37.4" y2="212" stroke="#111" stroke-width="1.3"/>
<text x="33.2" y="215.9" font-size="11.7" text-anchor="end" fill="#111">80</text>
<text x="37.6" y="329.2" font-size="11.7" text-anchor="middle" fill="#111">0.1</text>
<text x="81.8" y="329.2" font-size="11.7" text-anchor="middle" fill="#111">1</text>
<text x="126" y="329.2" font-size="11.7" text-anchor="middle" fill="#111">10</text>
<text x="170" y="329.2" font-size="11.7" text-anchor="middle" fill="#111">100</text>
<text x="104.3" y="345.5" font-size="12.8" text-anchor="middle" fill="#111">anti-CD3 (μg/mL)</text>
<text transform="translate(14.0,262.6) rotate(-90)" font-size="12.55" text-anchor="middle" fill="#111">ΔCD107 (%)</text>
<line x1="50.5" y1="281.5" x2="50.5" y2="297.5" stroke="#111" stroke-width="1.15"/>
<line x1="48" y1="281.5" x2="53" y2="281.5" stroke="#111" stroke-width="1.15"/>
<line x1="48" y1="297.5" x2="53" y2="297.5" stroke="#111" stroke-width="1.15"/>
<line x1="95.5" y1="252.5" x2="95.5" y2="278.5" stroke="#111" stroke-width="1.15"/>
<line x1="93" y1="252.5" x2="98" y2="252.5" stroke="#111" stroke-width="1.15"/>
<line x1="93" y1="278.5" x2="98" y2="278.5" stroke="#111" stroke-width="1.15"/>
<line x1="139.5" y1="233.5" x2="139.5" y2="272.5" stroke="#111" stroke-width="1.15"/>
<line x1="137" y1="233.5" x2="142" y2="233.5" stroke="#111" stroke-width="1.15"/>
<line x1="137" y1="272.5" x2="142" y2="272.5" stroke="#111" stroke-width="1.15"/>
<polyline fill="none" stroke="#111" stroke-width="1.5" points="50.5,289.52 95.5,265.04 139.5,253.06"/>
<rect x="48.5" y="287.52" width="4" height="4" fill="#111"/>
<rect x="93.5" y="263.04" width="4" height="4" fill="#111"/>
<rect x="137.5" y="251.06" width="4" height="4" fill="#111"/>
<line x1="50.5" y1="302.5" x2="50.5" y2="308.5" stroke="#111" stroke-width="1.15"/>
<line x1="48" y1="302.5" x2="53" y2="302.5" stroke="#111" stroke-width="1.15"/>
<line x1="48" y1="308.5" x2="53" y2="308.5" stroke="#111" stroke-width="1.15"/>
<line x1="95.5" y1="300.5" x2="95.5" y2="304.5" stroke="#111" stroke-width="1.15"/>
<line x1="93" y1="300.5" x2="98" y2="300.5" stroke="#111" stroke-width="1.15"/>
<line x1="93" y1="304.5" x2="98" y2="304.5" stroke="#111" stroke-width="1.15"/>
<line x1="139.5" y1="289.5" x2="139.5" y2="300.5" stroke="#111" stroke-width="1.15"/>
<line x1="137" y1="289.5" x2="142" y2="289.5" stroke="#111" stroke-width="1.15"/>
<line x1="137" y1="300.5" x2="142" y2="300.5" stroke="#111" stroke-width="1.15"/>
<polyline fill="none" stroke="#111" stroke-width="1.5" points="50.5,305.58 95.5,302.78 139.5,295.38"/>
<rect x="48.3" y="303.38" width="4.4" height="4.4" fill="#fff" stroke="#111" stroke-width="1.2"/>
<rect x="93.3" y="300.58" width="4.4" height="4.4" fill="#fff" stroke="#111" stroke-width="1.2"/>
<rect x="137.3" y="293.19" width="4.4" height="4.4" fill="#fff" stroke="#111" stroke-width="1.2"/>
<line x1="50.5" y1="302.5" x2="50.5" y2="308.5" stroke="#8c8c8c" stroke-width="1.15"/>
<line x1="48" y1="302.5" x2="53" y2="302.5" stroke="#8c8c8c" stroke-width="1.15"/>
<line x1="48" y1="308.5" x2="53" y2="308.5" stroke="#8c8c8c" stroke-width="1.15"/>
<line x1="95.5" y1="300.5" x2="95.5" y2="304.5" stroke="#8c8c8c" stroke-width="1.15"/>
<line x1="93" y1="300.5" x2="98" y2="300.5" stroke="#8c8c8c" stroke-width="1.15"/>
<line x1="93" y1="304.5" x2="98" y2="304.5" stroke="#8c8c8c" stroke-width="1.15"/>
<line x1="139.5" y1="289.5" x2="139.5" y2="300.5" stroke="#8c8c8c" stroke-width="1.15"/>
<line x1="137" y1="289.5" x2="142" y2="289.5" stroke="#8c8c8c" stroke-width="1.15"/>
<line x1="137" y1="300.5" x2="142" y2="300.5" stroke="#8c8c8c" stroke-width="1.15"/>
<polyline fill="none" stroke="#8c8c8c" stroke-width="1.5" points="50.5,305.07 95.5,302.78 139.5,295.13"/>
<polygon points="50.5,302.84 48.16,306.75 52.84,306.75" fill="#8c8c8c"/>
<polygon points="95.5,300.55 93.16,304.45 97.84,304.45" fill="#8c8c8c"/>
<polygon points="139.5,292.9 137.16,296.8 141.84,296.8" fill="#8c8c8c"/>
<line x1="50.5" y1="276.5" x2="50.5" y2="286.5" stroke="#8c8c8c" stroke-width="1.15"/>
<line x1="48" y1="276.5" x2="53" y2="276.5" stroke="#8c8c8c" stroke-width="1.15"/>
<line x1="48" y1="286.5" x2="53" y2="286.5" stroke="#8c8c8c" stroke-width="1.15"/>
<line x1="95.5" y1="250.5" x2="95.5" y2="262.5" stroke="#8c8c8c" stroke-width="1.15"/>
<line x1="93" y1="250.5" x2="98" y2="250.5" stroke="#8c8c8c" stroke-width="1.15"/>
<line x1="93" y1="262.5" x2="98" y2="262.5" stroke="#8c8c8c" stroke-width="1.15"/>
<line x1="139.5" y1="230.5" x2="139.5" y2="254.5" stroke="#8c8c8c" stroke-width="1.15"/>
<line x1="137" y1="230.5" x2="142" y2="230.5" stroke="#8c8c8c" stroke-width="1.15"/>
<line x1="137" y1="254.5" x2="142" y2="254.5" stroke="#8c8c8c" stroke-width="1.15"/>
<polyline fill="none" stroke="#8c8c8c" stroke-width="1.5" points="50.5,281.49 95.5,256.24 139.5,242.6"/>
<circle cx="50.5" cy="281.49" r="1.94" fill="#8c8c8c"/>
<circle cx="95.5" cy="256.24" r="1.94" fill="#8c8c8c"/>
<circle cx="139.5" cy="242.6" r="1.94" fill="#8c8c8c"/>
<text x="51.3" y="278.16" font-size="8" text-anchor="middle" font-weight="bold" fill="#111" letter-spacing="0.9">*</text>
<text x="95.8" y="248.36" font-size="8" text-anchor="middle" font-weight="bold" fill="#111" letter-spacing="0.9">***</text>
<text x="140.3" y="230.96" font-size="8" text-anchor="middle" font-weight="bold" fill="#111" letter-spacing="0.9">***</text>
<line x1="146.6" y1="196.4" x2="166" y2="196.4" stroke="#111" stroke-width="1.5"/>
<rect x="153.2" y="193.3" width="6.2" height="6.2" fill="#111"/>
<text x="173" y="200.15" font-size="10.7" fill="#111">B6</text>
<line x1="146.6" y1="209.7" x2="166" y2="209.7" stroke="#111" stroke-width="1.5"/>
<rect x="153.5" y="206.9" width="5.6" height="5.6" fill="#fff" stroke="#111" stroke-width="1.2"/>
<text x="173" y="213.44" font-size="10.7" font-style="italic" fill="#111">Stx11<tspan font-size="6.6" dy="-3.85" fill="#2a2a2a">-/-</tspan></text>
<line x1="146.6" y1="222.3" x2="166" y2="222.3" stroke="#8c8c8c" stroke-width="1.5"/>
<polygon points="156.3,218.46 152.26,225.18 160.34,225.18" fill="#8c8c8c"/>
<text x="173" y="226.05" font-size="10.7" font-style="italic" fill="#111">Rab27a<tspan font-size="6.6" dy="-3.85" fill="#2a2a2a">-/-</tspan></text>
<line x1="146.6" y1="234.2" x2="166" y2="234.2" stroke="#8c8c8c" stroke-width="1.5"/>
<circle cx="156.3" cy="234.2" r="2.7" fill="#8c8c8c"/>
<text x="173" y="237.94" font-size="10.7" font-style="italic" fill="#111">Prf1<tspan font-size="6.6" dy="-3.85" fill="#2a2a2a">-/-</tspan></text>
</g>
<g id="panelD">
<line x1="285.9" y1="314.55" x2="285.9" y2="211.1" stroke="#111" stroke-width="1.7"/>
<line x1="285.05" y1="313.7" x2="456.62" y2="313.7" stroke="#111" stroke-width="1.7"/>
<line x1="282.5" y1="313.7" x2="285.9" y2="313.7" stroke="#111" stroke-width="1.3"/>
<text x="281.7" y="317.6" font-size="11.7" text-anchor="end" fill="#111">0</text>
<line x1="282.5" y1="293.18" x2="285.9" y2="293.18" stroke="#111" stroke-width="1.3"/>
<text x="281.7" y="297.08" font-size="11.7" text-anchor="end" fill="#111">20</text>
<line x1="282.5" y1="272.66" x2="285.9" y2="272.66" stroke="#111" stroke-width="1.3"/>
<text x="281.7" y="276.56" font-size="11.7" text-anchor="end" fill="#111">40</text>
<line x1="282.5" y1="252.14" x2="285.9" y2="252.14" stroke="#111" stroke-width="1.3"/>
<text x="281.7" y="256.04" font-size="11.7" text-anchor="end" fill="#111">60</text>
<line x1="282.5" y1="231.62" x2="285.9" y2="231.62" stroke="#111" stroke-width="1.3"/>
<text x="281.7" y="235.52" font-size="11.7" text-anchor="end" fill="#111">80</text>
<line x1="282.5" y1="211.1" x2="285.9" y2="211.1" stroke="#111" stroke-width="1.3"/>
<text x="281.7" y="215" font-size="11.7" text-anchor="end" fill="#111">100</text>
<text x="286.1" y="327.7" font-size="11.7" text-anchor="middle" fill="#111">0</text>
<text x="317.14" y="327.7" font-size="11.7" text-anchor="middle" fill="#111">2</text>
<text x="348.18" y="327.7" font-size="11.7" text-anchor="middle" fill="#111">4</text>
<text x="379.22" y="327.7" font-size="11.7" text-anchor="middle" fill="#111">6</text>
<text x="410.26" y="327.7" font-size="11.7" text-anchor="middle" fill="#111">8</text>
<text x="441.3" y="327.7" font-size="11.7" text-anchor="middle" fill="#111">10</text>
<text x="351.5" y="345.6" font-size="12.6" text-anchor="middle" fill="#111">CTL:target ratio</text>
<text transform="translate(255.6,261.3) rotate(-90)" font-size="12.6" text-anchor="middle" fill="#111">target cell lysis (%)</text>
<line x1="301.5" y1="282.5" x2="301.5" y2="298.5" stroke="#111" stroke-width="1.15"/>
<line x1="299" y1="282.5" x2="304" y2="282.5" stroke="#111" stroke-width="1.15"/>
<line x1="299" y1="298.5" x2="304" y2="298.5" stroke="#111" stroke-width="1.15"/>
<line x1="316.5" y1="263.5" x2="316.5" y2="287.5" stroke="#111" stroke-width="1.15"/>
<line x1="314" y1="263.5" x2="319" y2="263.5" stroke="#111" stroke-width="1.15"/>
<line x1="314" y1="287.5" x2="319" y2="287.5" stroke="#111" stroke-width="1.15"/>
<line x1="363.5" y1="248.5" x2="363.5" y2="270.5" stroke="#111" stroke-width="1.15"/>
<line x1="361" y1="248.5" x2="366" y2="248.5" stroke="#111" stroke-width="1.15"/>
<line x1="361" y1="270.5" x2="366" y2="270.5" stroke="#111" stroke-width="1.15"/>
<line x1="441.5" y1="235.5" x2="441.5" y2="272.5" stroke="#111" stroke-width="1.15"/>
<line x1="439" y1="235.5" x2="444" y2="235.5" stroke="#111" stroke-width="1.15"/>
<line x1="439" y1="272.5" x2="444" y2="272.5" stroke="#111" stroke-width="1.15"/>
<polyline fill="none" stroke="#111" stroke-width="1.5" points="301.5,290.31 316.5,275.53 363.5,259.12 441.5,254.4"/>
<rect x="299.5" y="288.31" width="4" height="4" fill="#111"/>
<rect x="314.5" y="273.53" width="4" height="4" fill="#111"/>
<rect x="361.5" y="257.12" width="4" height="4" fill="#111"/>
<rect x="439.5" y="252.4" width="4" height="4" fill="#111"/>
<line x1="301.5" y1="305.5" x2="301.5" y2="310.5" stroke="#111" stroke-width="1.15"/>
<line x1="299" y1="305.5" x2="304" y2="305.5" stroke="#111" stroke-width="1.15"/>
<line x1="299" y1="310.5" x2="304" y2="310.5" stroke="#111" stroke-width="1.15"/>
<line x1="316.5" y1="298.5" x2="316.5" y2="312.5" stroke="#111" stroke-width="1.15"/>
<line x1="314" y1="298.5" x2="319" y2="298.5" stroke="#111" stroke-width="1.15"/>
<line x1="314" y1="312.5" x2="319" y2="312.5" stroke="#111" stroke-width="1.15"/>
<line x1="363.5" y1="285.5" x2="363.5" y2="311.5" stroke="#111" stroke-width="1.15"/>
<line x1="361" y1="285.5" x2="366" y2="285.5" stroke="#111" stroke-width="1.15"/>
<line x1="361" y1="311.5" x2="366" y2="311.5" stroke="#111" stroke-width="1.15"/>
<line x1="441.5" y1="290.5" x2="441.5" y2="306.5" stroke="#111" stroke-width="1.15"/>
<line x1="439" y1="290.5" x2="444" y2="290.5" stroke="#111" stroke-width="1.15"/>
<line x1="439" y1="306.5" x2="444" y2="306.5" stroke="#111" stroke-width="1.15"/>
<polyline fill="none" stroke="#111" stroke-width="1.5" points="301.5,308.36 316.5,305.08 363.5,298.72 441.5,298.31"/>
<rect x="299.3" y="306.16" width="4.4" height="4.4" fill="#fff" stroke="#111" stroke-width="1.2"/>
<rect x="314.3" y="302.88" width="4.4" height="4.4" fill="#fff" stroke="#111" stroke-width="1.2"/>
<rect x="361.3" y="296.52" width="4.4" height="4.4" fill="#fff" stroke="#111" stroke-width="1.2"/>
<rect x="439.3" y="296.11" width="4.4" height="4.4" fill="#fff" stroke="#111" stroke-width="1.2"/>
<line x1="301.5" y1="309.5" x2="301.5" y2="312.5" stroke="#8c8c8c" stroke-width="1.15"/>
<line x1="299" y1="309.5" x2="304" y2="309.5" stroke="#8c8c8c" stroke-width="1.15"/>
<line x1="299" y1="312.5" x2="304" y2="312.5" stroke="#8c8c8c" stroke-width="1.15"/>
<line x1="316.5" y1="306.5" x2="316.5" y2="312.5" stroke="#8c8c8c" stroke-width="1.15"/>
<line x1="314" y1="306.5" x2="319" y2="306.5" stroke="#8c8c8c" stroke-width="1.15"/>
<line x1="314" y1="312.5" x2="319" y2="312.5" stroke="#8c8c8c" stroke-width="1.15"/>
<line x1="363.5" y1="303.5" x2="363.5" y2="315.5" stroke="#8c8c8c" stroke-width="1.15"/>
<line x1="361" y1="303.5" x2="366" y2="303.5" stroke="#8c8c8c" stroke-width="1.15"/>
<line x1="361" y1="315.5" x2="366" y2="315.5" stroke="#8c8c8c" stroke-width="1.15"/>
<line x1="441.5" y1="302.5" x2="441.5" y2="308.5" stroke="#8c8c8c" stroke-width="1.15"/>
<line x1="439" y1="302.5" x2="444" y2="302.5" stroke="#8c8c8c" stroke-width="1.15"/>
<line x1="439" y1="308.5" x2="444" y2="308.5" stroke="#8c8c8c" stroke-width="1.15"/>
<polyline fill="none" stroke="#8c8c8c" stroke-width="1.5" points="301.5,311.34 316.5,309.8 363.5,309.8 441.5,305.49"/>
<polygon points="301.5,309.11 299.16,313.01 303.84,313.01" fill="#8c8c8c"/>
<polygon points="316.5,307.57 314.16,311.48 318.84,311.48" fill="#8c8c8c"/>
<polygon points="363.5,307.57 361.16,311.48 365.84,311.48" fill="#8c8c8c"/>
<polygon points="441.5,303.26 439.16,307.17 443.84,307.17" fill="#8c8c8c"/>
<line x1="301.5" y1="306.5" x2="301.5" y2="310.5" stroke="#8c8c8c" stroke-width="1.15"/>
<line x1="299" y1="306.5" x2="304" y2="306.5" stroke="#8c8c8c" stroke-width="1.15"/>
<line x1="299" y1="310.5" x2="304" y2="310.5" stroke="#8c8c8c" stroke-width="1.15"/>
<line x1="316.5" y1="300.5" x2="316.5" y2="310.5" stroke="#8c8c8c" stroke-width="1.15"/>
<line x1="314" y1="300.5" x2="319" y2="300.5" stroke="#8c8c8c" stroke-width="1.15"/>
<line x1="314" y1="310.5" x2="319" y2="310.5" stroke="#8c8c8c" stroke-width="1.15"/>
<line x1="363.5" y1="289.5" x2="363.5" y2="308.5" stroke="#8c8c8c" stroke-width="1.15"/>
<line x1="361" y1="289.5" x2="366" y2="289.5" stroke="#8c8c8c" stroke-width="1.15"/>
<line x1="361" y1="308.5" x2="366" y2="308.5" stroke="#8c8c8c" stroke-width="1.15"/>
<line x1="441.5" y1="293.5" x2="441.5" y2="305.5" stroke="#8c8c8c" stroke-width="1.15"/>
<line x1="439" y1="293.5" x2="444" y2="293.5" stroke="#8c8c8c" stroke-width="1.15"/>
<line x1="439" y1="305.5" x2="444" y2="305.5" stroke="#8c8c8c" stroke-width="1.15"/>
<polyline fill="none" stroke="#8c8c8c" stroke-width="1.5" points="301.5,308.98 316.5,305.7 363.5,299.13 441.5,299.75"/>
<circle cx="301.5" cy="308.98" r="1.94" fill="#8c8c8c"/>
<circle cx="316.5" cy="305.7" r="1.94" fill="#8c8c8c"/>
<circle cx="363.5" cy="299.13" r="1.94" fill="#8c8c8c"/>
<circle cx="441.5" cy="299.75" r="1.94" fill="#8c8c8c"/>
<text x="301.92" y="281.16" font-size="8" text-anchor="middle" font-weight="bold" fill="#111" letter-spacing="0.9">**</text>
<text x="317.44" y="261.96" font-size="8" text-anchor="middle" font-weight="bold" fill="#111" letter-spacing="0.9">***</text>
<text x="364" y="246.16" font-size="8" text-anchor="middle" font-weight="bold" fill="#111" letter-spacing="0.9">***</text>
<text x="441.6" y="233.76" font-size="8" text-anchor="middle" font-weight="bold" fill="#111" letter-spacing="0.9">**</text>
<line x1="450.8" y1="196.9" x2="470.7" y2="196.9" stroke="#111" stroke-width="1.5"/>
<rect x="457.65" y="193.8" width="6.2" height="6.2" fill="#111"/>
<text x="477.5" y="200.65" font-size="10.7" fill="#111">B6</text>
<line x1="450.8" y1="209.8" x2="470.7" y2="209.8" stroke="#111" stroke-width="1.5"/>
<rect x="457.95" y="207" width="5.6" height="5.6" fill="#fff" stroke="#111" stroke-width="1.2"/>
<text x="477.5" y="213.55" font-size="10.7" font-style="italic" fill="#111">Stx11<tspan font-size="6.6" dy="-3.85" fill="#2a2a2a">-/-</tspan></text>
<line x1="450.8" y1="222.1" x2="470.7" y2="222.1" stroke="#8c8c8c" stroke-width="1.5"/>
<polygon points="460.75,218.26 456.71,224.98 464.79,224.98" fill="#8c8c8c"/>
<text x="477.5" y="225.84" font-size="10.7" font-style="italic" fill="#111">Rab27a<tspan font-size="6.6" dy="-3.85" fill="#2a2a2a">-/-</tspan></text>
<line x1="450.8" y1="234.6" x2="470.7" y2="234.6" stroke="#8c8c8c" stroke-width="1.5"/>
<circle cx="460.75" cy="234.6" r="2.7" fill="#8c8c8c"/>
<text x="477.5" y="238.34" font-size="10.7" font-style="italic" fill="#111">Prf1<tspan font-size="6.6" dy="-3.85" fill="#2a2a2a">-/-</tspan></text>
</g>
</svg></body></html>
